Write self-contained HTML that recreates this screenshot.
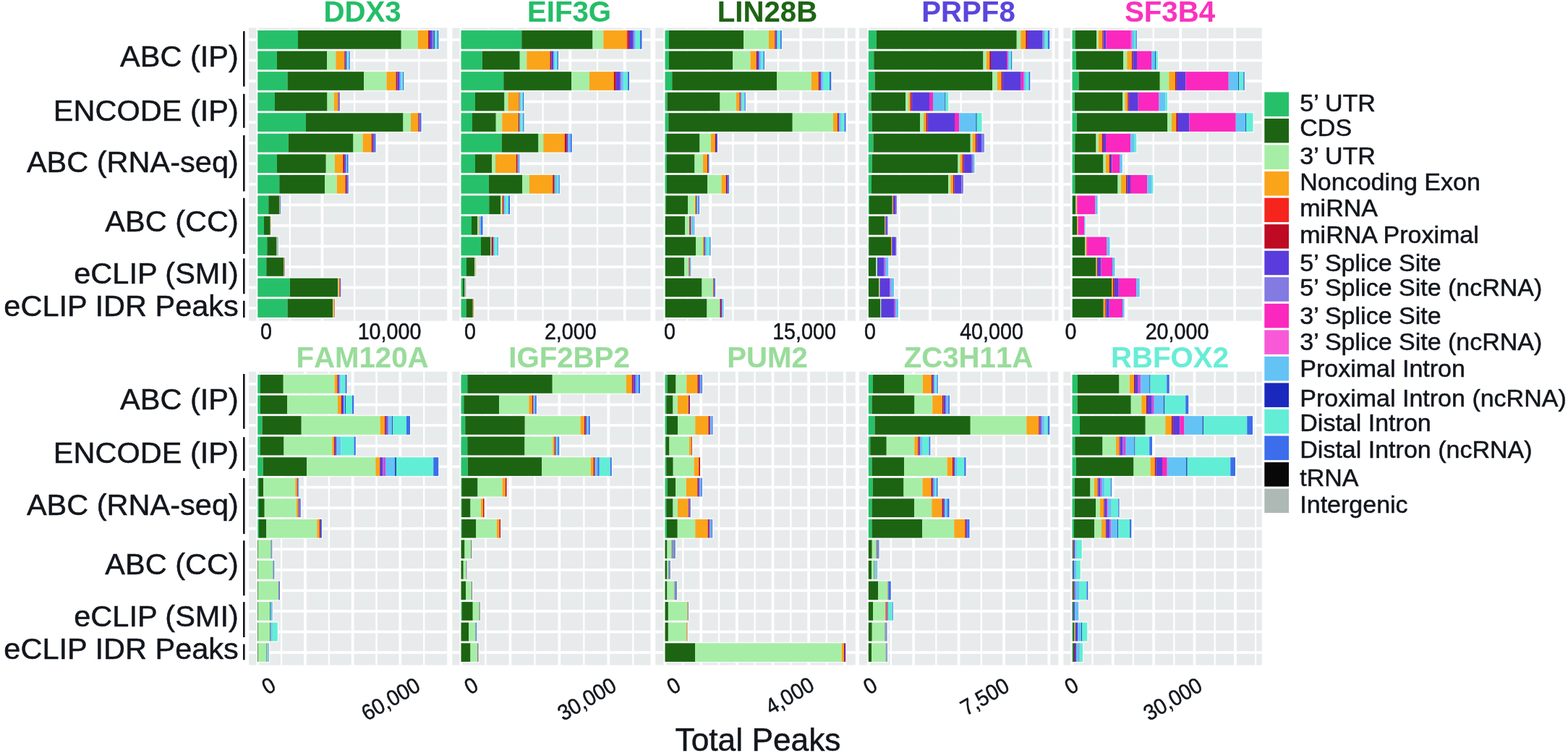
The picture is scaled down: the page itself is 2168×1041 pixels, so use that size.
<!DOCTYPE html>
<html lang="en"><head><meta charset="utf-8"><title>Total Peaks by region</title>
<style>
html,body{margin:0;padding:0;background:#fff;}
body{width:2168px;height:1041px;overflow:hidden;font-family:"Liberation Sans", Arial, Helvetica, sans-serif;}
svg{display:block;}
svg text{font-kerning:normal;}
</style></head><body>
<svg width="2168" height="1041" viewBox="0 0 2168 1041" font-family='"Liberation Sans", Arial, Helvetica, sans-serif'>
<rect x="0" y="0" width="2168" height="1041" fill="#ffffff"/>
<defs><filter id="soft" x="-2%" y="-2%" width="104%" height="104%" color-interpolation-filters="sRGB"><feGaussianBlur stdDeviation="0.55"/></filter></defs>
<g class="panel p1" filter="url(#soft)">
<rect x="344" y="38.5" width="274.3" height="405.1" fill="#E8EBEC"/>
<rect x="344" y="53.05" width="274.3" height="3.7" fill="#fff"/>
<rect x="344" y="81.6" width="274.3" height="3.7" fill="#fff"/>
<rect x="344" y="110.15" width="274.3" height="3.7" fill="#fff"/>
<rect x="344" y="138.7" width="274.3" height="3.7" fill="#fff"/>
<rect x="344" y="167.25" width="274.3" height="3.7" fill="#fff"/>
<rect x="344" y="195.8" width="274.3" height="3.7" fill="#fff"/>
<rect x="344" y="224.35" width="274.3" height="3.7" fill="#fff"/>
<rect x="344" y="252.9" width="274.3" height="3.7" fill="#fff"/>
<rect x="344" y="281.45" width="274.3" height="3.7" fill="#fff"/>
<rect x="344" y="310" width="274.3" height="3.7" fill="#fff"/>
<rect x="344" y="338.55" width="274.3" height="3.7" fill="#fff"/>
<rect x="344" y="367.1" width="274.3" height="3.7" fill="#fff"/>
<rect x="344" y="395.65" width="274.3" height="3.7" fill="#fff"/>
<rect x="344" y="424.2" width="274.3" height="3.7" fill="#fff"/>
<rect x="354.4" y="38.5" width="3.7" height="405.1" fill="#fff"/>
<rect x="399.77" y="38.5" width="2.2" height="405.1" fill="#fff"/>
<rect x="443.64" y="38.5" width="3.7" height="405.1" fill="#fff"/>
<rect x="489.01" y="38.5" width="2.2" height="405.1" fill="#fff"/>
<rect x="532.88" y="38.5" width="3.7" height="405.1" fill="#fff"/>
<rect x="578.25" y="38.5" width="2.2" height="405.1" fill="#fff"/>
<rect x="355.65" y="40.55" width="251.95" height="28.7" fill="#fff" fill-opacity="0.7"/>
<rect x="356.25" y="42.05" width="55.75" height="25.7" fill="#26C06A"/>
<rect x="412" y="42.05" width="142.75" height="25.7" fill="#1C6412"/>
<rect x="554.75" y="42.05" width="23" height="25.7" fill="#A6EEA6"/>
<rect x="577.75" y="42.05" width="14.38" height="25.7" fill="#FAA41A"/>
<rect x="592.12" y="42.05" width="1.88" height="25.7" fill="#BE0A23"/>
<rect x="594" y="42.05" width="3.75" height="25.7" fill="#5A3CDC"/>
<rect x="597.75" y="42.05" width="2.25" height="25.7" fill="#837AE2"/>
<rect x="600" y="42.05" width="1.12" height="25.7" fill="#2458B4"/>
<rect x="601.12" y="42.05" width="3.5" height="25.7" fill="#62EED6"/>
<rect x="604.62" y="42.05" width="1.77" height="25.7" fill="#3C6EEB"/>
<rect x="355.65" y="69.1" width="129.3" height="28.7" fill="#fff" fill-opacity="0.7"/>
<rect x="356.25" y="70.6" width="26.75" height="25.7" fill="#26C06A"/>
<rect x="383" y="70.6" width="69" height="25.7" fill="#1C6412"/>
<rect x="452" y="70.6" width="12.25" height="25.7" fill="#A6EEA6"/>
<rect x="464.25" y="70.6" width="12" height="25.7" fill="#FAA41A"/>
<rect x="476.25" y="70.6" width="1.25" height="25.7" fill="#BE0A23"/>
<rect x="477.5" y="70.6" width="1.5" height="25.7" fill="#5A3CDC"/>
<rect x="479" y="70.6" width="1.5" height="25.7" fill="#64C3F5"/>
<rect x="480.5" y="70.6" width="2" height="25.7" fill="#62EED6"/>
<rect x="482.5" y="70.6" width="1.25" height="25.7" fill="#3C6EEB"/>
<rect x="355.65" y="97.65" width="203.8" height="28.7" fill="#fff" fill-opacity="0.7"/>
<rect x="356.25" y="99.15" width="41.25" height="25.7" fill="#26C06A"/>
<rect x="397.5" y="99.15" width="105.5" height="25.7" fill="#1C6412"/>
<rect x="503" y="99.15" width="31.5" height="25.7" fill="#A6EEA6"/>
<rect x="534.5" y="99.15" width="13" height="25.7" fill="#FAA41A"/>
<rect x="547.5" y="99.15" width="2" height="25.7" fill="#BE0A23"/>
<rect x="549.5" y="99.15" width="2.5" height="25.7" fill="#5A3CDC"/>
<rect x="552" y="99.15" width="1" height="25.7" fill="#837AE2"/>
<rect x="553" y="99.15" width="2.5" height="25.7" fill="#64C3F5"/>
<rect x="555.5" y="99.15" width="1.5" height="25.7" fill="#62EED6"/>
<rect x="557" y="99.15" width="1.25" height="25.7" fill="#3C6EEB"/>
<rect x="355.65" y="126.2" width="115.55" height="28.7" fill="#fff" fill-opacity="0.7"/>
<rect x="356.25" y="127.7" width="23.75" height="25.7" fill="#26C06A"/>
<rect x="380" y="127.7" width="72.5" height="25.7" fill="#1C6412"/>
<rect x="452.5" y="127.7" width="9.25" height="25.7" fill="#A6EEA6"/>
<rect x="461.75" y="127.7" width="5.75" height="25.7" fill="#FAA41A"/>
<rect x="467.5" y="127.7" width="1" height="25.7" fill="#BE0A23"/>
<rect x="468.5" y="127.7" width="0.75" height="25.7" fill="#5A3CDC"/>
<rect x="469.25" y="127.7" width="0.75" height="25.7" fill="#3C6EEB"/>
<rect x="355.65" y="154.75" width="228.05" height="28.7" fill="#fff" fill-opacity="0.7"/>
<rect x="356.25" y="156.25" width="66.75" height="25.7" fill="#26C06A"/>
<rect x="423" y="156.25" width="134.5" height="25.7" fill="#1C6412"/>
<rect x="557.5" y="156.25" width="10.5" height="25.7" fill="#A6EEA6"/>
<rect x="568" y="156.25" width="10.25" height="25.7" fill="#FAA41A"/>
<rect x="578.25" y="156.25" width="1.25" height="25.7" fill="#BE0A23"/>
<rect x="579.5" y="156.25" width="1.25" height="25.7" fill="#5A3CDC"/>
<rect x="580.75" y="156.25" width="1.75" height="25.7" fill="#3C6EEB"/>
<rect x="355.65" y="183.3" width="165.05" height="28.7" fill="#fff" fill-opacity="0.7"/>
<rect x="356.25" y="184.8" width="42.5" height="25.7" fill="#26C06A"/>
<rect x="398.75" y="184.8" width="89.75" height="25.7" fill="#1C6412"/>
<rect x="488.5" y="184.8" width="13" height="25.7" fill="#A6EEA6"/>
<rect x="501.5" y="184.8" width="12.25" height="25.7" fill="#FAA41A"/>
<rect x="513.75" y="184.8" width="1.75" height="25.7" fill="#BE0A23"/>
<rect x="515.5" y="184.8" width="2" height="25.7" fill="#5A3CDC"/>
<rect x="517.5" y="184.8" width="2" height="25.7" fill="#3C6EEB"/>
<rect x="355.65" y="211.85" width="127.05" height="28.7" fill="#fff" fill-opacity="0.7"/>
<rect x="356.25" y="213.35" width="26.75" height="25.7" fill="#26C06A"/>
<rect x="383" y="213.35" width="67.75" height="25.7" fill="#1C6412"/>
<rect x="450.75" y="213.35" width="12.25" height="25.7" fill="#A6EEA6"/>
<rect x="463" y="213.35" width="11.25" height="25.7" fill="#FAA41A"/>
<rect x="474.25" y="213.35" width="2" height="25.7" fill="#BE0A23"/>
<rect x="476.25" y="213.35" width="1.75" height="25.7" fill="#5A3CDC"/>
<rect x="478" y="213.35" width="2" height="25.7" fill="#64C3F5"/>
<rect x="480" y="213.35" width="1.5" height="25.7" fill="#3C6EEB"/>
<rect x="355.65" y="240.4" width="127.3" height="28.7" fill="#fff" fill-opacity="0.7"/>
<rect x="356.25" y="241.9" width="30" height="25.7" fill="#26C06A"/>
<rect x="386.25" y="241.9" width="63" height="25.7" fill="#1C6412"/>
<rect x="449.25" y="241.9" width="16.5" height="25.7" fill="#A6EEA6"/>
<rect x="465.75" y="241.9" width="11.75" height="25.7" fill="#FAA41A"/>
<rect x="477.5" y="241.9" width="1.75" height="25.7" fill="#BE0A23"/>
<rect x="479.25" y="241.9" width="1.5" height="25.7" fill="#5A3CDC"/>
<rect x="480.75" y="241.9" width="1" height="25.7" fill="#3C6EEB"/>
<rect x="355.65" y="268.95" width="33.8" height="28.7" fill="#fff" fill-opacity="0.7"/>
<rect x="356.25" y="270.45" width="15" height="25.7" fill="#26C06A"/>
<rect x="371.25" y="270.45" width="15" height="25.7" fill="#1C6412"/>
<rect x="386.25" y="270.45" width="0.5" height="25.7" fill="#D2A868"/>
<rect x="386.75" y="270.45" width="1.5" height="25.7" fill="#6E8ECC"/>
<rect x="355.65" y="297.5" width="20.05" height="28.7" fill="#fff" fill-opacity="0.7"/>
<rect x="356.25" y="299" width="8.75" height="25.7" fill="#26C06A"/>
<rect x="365" y="299" width="8.75" height="25.7" fill="#1C6412"/>
<rect x="373.75" y="299" width="0.75" height="25.7" fill="#D2A868"/>
<rect x="355.65" y="326.05" width="30.55" height="28.7" fill="#fff" fill-opacity="0.7"/>
<rect x="356.25" y="327.55" width="13" height="25.7" fill="#26C06A"/>
<rect x="369.25" y="327.55" width="13.25" height="25.7" fill="#1C6412"/>
<rect x="382.5" y="327.55" width="1" height="25.7" fill="#D2A868"/>
<rect x="383.5" y="327.55" width="1.5" height="25.7" fill="#86C6DA"/>
<rect x="355.65" y="354.6" width="39.3" height="28.7" fill="#fff" fill-opacity="0.7"/>
<rect x="356.25" y="356.1" width="12" height="25.7" fill="#26C06A"/>
<rect x="368.25" y="356.1" width="23.75" height="25.7" fill="#1C6412"/>
<rect x="392" y="356.1" width="1" height="25.7" fill="#D2A868"/>
<rect x="393" y="356.1" width="0.75" height="25.7" fill="#8C7C90"/>
<rect x="355.65" y="383.15" width="116.8" height="28.7" fill="#fff" fill-opacity="0.7"/>
<rect x="356.25" y="384.65" width="44.5" height="25.7" fill="#26C06A"/>
<rect x="400.75" y="384.65" width="66.25" height="25.7" fill="#1C6412"/>
<rect x="467" y="384.65" width="1" height="25.7" fill="#A6EEA6"/>
<rect x="468" y="384.65" width="1.5" height="25.7" fill="#FAA41A"/>
<rect x="469.5" y="384.65" width="0.75" height="25.7" fill="#BE0A23"/>
<rect x="470.25" y="384.65" width="1" height="25.7" fill="#5A3CDC"/>
<rect x="355.65" y="411.7" width="108.05" height="28.7" fill="#fff" fill-opacity="0.7"/>
<rect x="356.25" y="413.2" width="41.25" height="25.7" fill="#26C06A"/>
<rect x="397.5" y="413.2" width="62.5" height="25.7" fill="#1C6412"/>
<rect x="460" y="413.2" width="0.75" height="25.7" fill="#A6EEA6"/>
<rect x="460.75" y="413.2" width="1.25" height="25.7" fill="#FAA41A"/>
<rect x="462" y="413.2" width="0.5" height="25.7" fill="#BE0A23"/>
</g>
<text x="501" y="30" font-size="40.2" font-weight="bold" fill="#24BE68" stroke="#24BE68" stroke-width="0.1" text-anchor="middle" style="font-kerning:none">DDX3</text>
<g class="panel p2" filter="url(#soft)">
<rect x="625.4" y="38.5" width="274.1" height="405.1" fill="#E8EBEC"/>
<rect x="625.4" y="53.05" width="274.1" height="3.7" fill="#fff"/>
<rect x="625.4" y="81.6" width="274.1" height="3.7" fill="#fff"/>
<rect x="625.4" y="110.15" width="274.1" height="3.7" fill="#fff"/>
<rect x="625.4" y="138.7" width="274.1" height="3.7" fill="#fff"/>
<rect x="625.4" y="167.25" width="274.1" height="3.7" fill="#fff"/>
<rect x="625.4" y="195.8" width="274.1" height="3.7" fill="#fff"/>
<rect x="625.4" y="224.35" width="274.1" height="3.7" fill="#fff"/>
<rect x="625.4" y="252.9" width="274.1" height="3.7" fill="#fff"/>
<rect x="625.4" y="281.45" width="274.1" height="3.7" fill="#fff"/>
<rect x="625.4" y="310" width="274.1" height="3.7" fill="#fff"/>
<rect x="625.4" y="338.55" width="274.1" height="3.7" fill="#fff"/>
<rect x="625.4" y="367.1" width="274.1" height="3.7" fill="#fff"/>
<rect x="625.4" y="395.65" width="274.1" height="3.7" fill="#fff"/>
<rect x="625.4" y="424.2" width="274.1" height="3.7" fill="#fff"/>
<rect x="635.65" y="38.5" width="3.7" height="405.1" fill="#fff"/>
<rect x="674.1" y="38.5" width="2.2" height="405.1" fill="#fff"/>
<rect x="711.05" y="38.5" width="3.7" height="405.1" fill="#fff"/>
<rect x="749.5" y="38.5" width="2.2" height="405.1" fill="#fff"/>
<rect x="786.45" y="38.5" width="3.7" height="405.1" fill="#fff"/>
<rect x="824.9" y="38.5" width="2.2" height="405.1" fill="#fff"/>
<rect x="861.85" y="38.5" width="3.7" height="405.1" fill="#fff"/>
<rect x="636.9" y="40.55" width="251.8" height="28.7" fill="#fff" fill-opacity="0.7"/>
<rect x="637.5" y="42.05" width="83.75" height="25.7" fill="#26C06A"/>
<rect x="721.25" y="42.05" width="98.25" height="25.7" fill="#1C6412"/>
<rect x="819.5" y="42.05" width="14.75" height="25.7" fill="#A6EEA6"/>
<rect x="834.25" y="42.05" width="32.5" height="25.7" fill="#FAA41A"/>
<rect x="866.75" y="42.05" width="1.5" height="25.7" fill="#F5241D"/>
<rect x="868.25" y="42.05" width="1.75" height="25.7" fill="#BE0A23"/>
<rect x="870" y="42.05" width="5" height="25.7" fill="#5A3CDC"/>
<rect x="875" y="42.05" width="2.5" height="25.7" fill="#837AE2"/>
<rect x="877.5" y="42.05" width="2" height="25.7" fill="#64C3F5"/>
<rect x="879.5" y="42.05" width="5.5" height="25.7" fill="#62EED6"/>
<rect x="885" y="42.05" width="2.5" height="25.7" fill="#3C6EEB"/>
<rect x="636.9" y="69.1" width="136.3" height="28.7" fill="#fff" fill-opacity="0.7"/>
<rect x="637.5" y="70.6" width="29.25" height="25.7" fill="#26C06A"/>
<rect x="666.75" y="70.6" width="52" height="25.7" fill="#1C6412"/>
<rect x="718.75" y="70.6" width="9.5" height="25.7" fill="#A6EEA6"/>
<rect x="728.25" y="70.6" width="32.25" height="25.7" fill="#FAA41A"/>
<rect x="760.5" y="70.6" width="2" height="25.7" fill="#BE0A23"/>
<rect x="762.5" y="70.6" width="2.5" height="25.7" fill="#5A3CDC"/>
<rect x="765" y="70.6" width="2.5" height="25.7" fill="#64C3F5"/>
<rect x="767.5" y="70.6" width="3" height="25.7" fill="#62EED6"/>
<rect x="770.5" y="70.6" width="1.5" height="25.7" fill="#3C6EEB"/>
<rect x="636.9" y="97.65" width="234.3" height="28.7" fill="#fff" fill-opacity="0.7"/>
<rect x="637.5" y="99.15" width="58.75" height="25.7" fill="#26C06A"/>
<rect x="696.25" y="99.15" width="93.75" height="25.7" fill="#1C6412"/>
<rect x="790" y="99.15" width="25" height="25.7" fill="#A6EEA6"/>
<rect x="815" y="99.15" width="33.75" height="25.7" fill="#FAA41A"/>
<rect x="848.75" y="99.15" width="3" height="25.7" fill="#BE0A23"/>
<rect x="851.75" y="99.15" width="5.25" height="25.7" fill="#5A3CDC"/>
<rect x="857" y="99.15" width="2.5" height="25.7" fill="#837AE2"/>
<rect x="859.5" y="99.15" width="3" height="25.7" fill="#64C3F5"/>
<rect x="862.5" y="99.15" width="5.5" height="25.7" fill="#62EED6"/>
<rect x="868" y="99.15" width="2" height="25.7" fill="#3C6EEB"/>
<rect x="636.9" y="126.2" width="88.55" height="28.7" fill="#fff" fill-opacity="0.7"/>
<rect x="637.5" y="127.7" width="19.5" height="25.7" fill="#26C06A"/>
<rect x="657" y="127.7" width="40.5" height="25.7" fill="#1C6412"/>
<rect x="697.5" y="127.7" width="5" height="25.7" fill="#A6EEA6"/>
<rect x="702.5" y="127.7" width="15" height="25.7" fill="#FAA41A"/>
<rect x="717.5" y="127.7" width="1" height="25.7" fill="#BE0A23"/>
<rect x="718.5" y="127.7" width="2" height="25.7" fill="#64C3F5"/>
<rect x="720.5" y="127.7" width="2.5" height="25.7" fill="#62EED6"/>
<rect x="723" y="127.7" width="1.25" height="25.7" fill="#3C6EEB"/>
<rect x="636.9" y="154.75" width="88.8" height="28.7" fill="#fff" fill-opacity="0.7"/>
<rect x="637.5" y="156.25" width="15.5" height="25.7" fill="#26C06A"/>
<rect x="653" y="156.25" width="32.75" height="25.7" fill="#1C6412"/>
<rect x="685.75" y="156.25" width="8.5" height="25.7" fill="#A6EEA6"/>
<rect x="694.25" y="156.25" width="22.5" height="25.7" fill="#FAA41A"/>
<rect x="716.75" y="156.25" width="1.25" height="25.7" fill="#BE0A23"/>
<rect x="718" y="156.25" width="2.5" height="25.7" fill="#64C3F5"/>
<rect x="720.5" y="156.25" width="2.75" height="25.7" fill="#62EED6"/>
<rect x="723.25" y="156.25" width="1.25" height="25.7" fill="#3C6EEB"/>
<rect x="636.9" y="183.3" width="155.05" height="28.7" fill="#fff" fill-opacity="0.7"/>
<rect x="637.5" y="184.8" width="56.25" height="25.7" fill="#26C06A"/>
<rect x="693.75" y="184.8" width="50.75" height="25.7" fill="#1C6412"/>
<rect x="744.5" y="184.8" width="6.75" height="25.7" fill="#A6EEA6"/>
<rect x="751.25" y="184.8" width="29.5" height="25.7" fill="#FAA41A"/>
<rect x="780.75" y="184.8" width="3" height="25.7" fill="#BE0A23"/>
<rect x="783.75" y="184.8" width="1.75" height="25.7" fill="#5A3CDC"/>
<rect x="785.5" y="184.8" width="3.25" height="25.7" fill="#64C3F5"/>
<rect x="788.75" y="184.8" width="2" height="25.7" fill="#3C6EEB"/>
<rect x="636.9" y="211.85" width="82.55" height="28.7" fill="#fff" fill-opacity="0.7"/>
<rect x="637.5" y="213.35" width="19.5" height="25.7" fill="#26C06A"/>
<rect x="657" y="213.35" width="23" height="25.7" fill="#1C6412"/>
<rect x="680" y="213.35" width="5" height="25.7" fill="#A6EEA6"/>
<rect x="685" y="213.35" width="28.75" height="25.7" fill="#FAA41A"/>
<rect x="713.75" y="213.35" width="2" height="25.7" fill="#BE0A23"/>
<rect x="715.75" y="213.35" width="1.5" height="25.7" fill="#64C3F5"/>
<rect x="717.25" y="213.35" width="1" height="25.7" fill="#3C6EEB"/>
<rect x="636.9" y="240.4" width="138.05" height="28.7" fill="#fff" fill-opacity="0.7"/>
<rect x="637.5" y="241.9" width="38.25" height="25.7" fill="#26C06A"/>
<rect x="675.75" y="241.9" width="46.25" height="25.7" fill="#1C6412"/>
<rect x="722" y="241.9" width="10" height="25.7" fill="#A6EEA6"/>
<rect x="732" y="241.9" width="32.25" height="25.7" fill="#FAA41A"/>
<rect x="764.25" y="241.9" width="2.5" height="25.7" fill="#BE0A23"/>
<rect x="766.75" y="241.9" width="3.25" height="25.7" fill="#64C3F5"/>
<rect x="770" y="241.9" width="2.5" height="25.7" fill="#62EED6"/>
<rect x="772.5" y="241.9" width="1.25" height="25.7" fill="#3C6EEB"/>
<rect x="636.9" y="268.95" width="69.3" height="28.7" fill="#fff" fill-opacity="0.7"/>
<rect x="637.5" y="270.45" width="38.75" height="25.7" fill="#26C06A"/>
<rect x="676.25" y="270.45" width="15.75" height="25.7" fill="#1C6412"/>
<rect x="692" y="270.45" width="1.75" height="25.7" fill="#A6EEA6"/>
<rect x="693.75" y="270.45" width="1.25" height="25.7" fill="#FAA41A"/>
<rect x="695" y="270.45" width="1.25" height="25.7" fill="#BE0A23"/>
<rect x="696.25" y="270.45" width="0.75" height="25.7" fill="#837AE2"/>
<rect x="697" y="270.45" width="2.25" height="25.7" fill="#64C3F5"/>
<rect x="699.25" y="270.45" width="3.75" height="25.7" fill="#62EED6"/>
<rect x="703" y="270.45" width="2" height="25.7" fill="#3C6EEB"/>
<rect x="636.9" y="297.5" width="31.8" height="28.7" fill="#fff" fill-opacity="0.7"/>
<rect x="637.5" y="299" width="14.5" height="25.7" fill="#26C06A"/>
<rect x="652" y="299" width="8" height="25.7" fill="#1C6412"/>
<rect x="660" y="299" width="1.25" height="25.7" fill="#A6EEA6"/>
<rect x="661.25" y="299" width="1.25" height="25.7" fill="#FAA41A"/>
<rect x="662.5" y="299" width="2.5" height="25.7" fill="#64C3F5"/>
<rect x="665" y="299" width="2.5" height="25.7" fill="#3C6EEB"/>
<rect x="636.9" y="326.05" width="53.05" height="28.7" fill="#fff" fill-opacity="0.7"/>
<rect x="637.5" y="327.55" width="27.5" height="25.7" fill="#26C06A"/>
<rect x="665" y="327.55" width="13.25" height="25.7" fill="#1C6412"/>
<rect x="678.25" y="327.55" width="1.25" height="25.7" fill="#A6EEA6"/>
<rect x="679.5" y="327.55" width="2.5" height="25.7" fill="#BE0A23"/>
<rect x="682" y="327.55" width="2.5" height="25.7" fill="#64C3F5"/>
<rect x="684.5" y="327.55" width="3.5" height="25.7" fill="#62EED6"/>
<rect x="688" y="327.55" width="0.75" height="25.7" fill="#3C6EEB"/>
<rect x="636.9" y="354.6" width="22.55" height="28.7" fill="#fff" fill-opacity="0.7"/>
<rect x="637.5" y="356.1" width="7.5" height="25.7" fill="#26C06A"/>
<rect x="645" y="356.1" width="11.25" height="25.7" fill="#1C6412"/>
<rect x="656.25" y="356.1" width="1" height="25.7" fill="#A6EEA6"/>
<rect x="657.25" y="356.1" width="1" height="25.7" fill="#D2A868"/>
<rect x="636.9" y="383.15" width="8.8" height="28.7" fill="#fff" fill-opacity="0.7"/>
<rect x="637.5" y="384.65" width="2.5" height="25.7" fill="#26C06A"/>
<rect x="640" y="384.65" width="2.5" height="25.7" fill="#1C6412"/>
<rect x="642.5" y="384.65" width="2" height="25.7" fill="#AEB9B5"/>
<rect x="636.9" y="411.7" width="19.55" height="28.7" fill="#fff" fill-opacity="0.7"/>
<rect x="637.5" y="413.2" width="7" height="25.7" fill="#26C06A"/>
<rect x="644.5" y="413.2" width="9.25" height="25.7" fill="#1C6412"/>
<rect x="653.75" y="413.2" width="1.5" height="25.7" fill="#D2A868"/>
</g>
<text x="787" y="30" font-size="40.2" font-weight="bold" fill="#24BE68" stroke="#24BE68" stroke-width="0.1" text-anchor="middle" style="font-kerning:none">EIF3G</text>
<g class="panel p3" filter="url(#soft)">
<rect x="906.2" y="38.5" width="276.6" height="405.1" fill="#E8EBEC"/>
<rect x="906.2" y="53.05" width="276.6" height="3.7" fill="#fff"/>
<rect x="906.2" y="81.6" width="276.6" height="3.7" fill="#fff"/>
<rect x="906.2" y="110.15" width="276.6" height="3.7" fill="#fff"/>
<rect x="906.2" y="138.7" width="276.6" height="3.7" fill="#fff"/>
<rect x="906.2" y="167.25" width="276.6" height="3.7" fill="#fff"/>
<rect x="906.2" y="195.8" width="276.6" height="3.7" fill="#fff"/>
<rect x="906.2" y="224.35" width="276.6" height="3.7" fill="#fff"/>
<rect x="906.2" y="252.9" width="276.6" height="3.7" fill="#fff"/>
<rect x="906.2" y="281.45" width="276.6" height="3.7" fill="#fff"/>
<rect x="906.2" y="310" width="276.6" height="3.7" fill="#fff"/>
<rect x="906.2" y="338.55" width="276.6" height="3.7" fill="#fff"/>
<rect x="906.2" y="367.1" width="276.6" height="3.7" fill="#fff"/>
<rect x="906.2" y="395.65" width="276.6" height="3.7" fill="#fff"/>
<rect x="906.2" y="424.2" width="276.6" height="3.7" fill="#fff"/>
<rect x="917.65" y="38.5" width="3.7" height="405.1" fill="#fff"/>
<rect x="949.7" y="38.5" width="2.2" height="405.1" fill="#fff"/>
<rect x="980.25" y="38.5" width="3.7" height="405.1" fill="#fff"/>
<rect x="1012.3" y="38.5" width="2.2" height="405.1" fill="#fff"/>
<rect x="1042.85" y="38.5" width="3.7" height="405.1" fill="#fff"/>
<rect x="1074.9" y="38.5" width="2.2" height="405.1" fill="#fff"/>
<rect x="1105.45" y="38.5" width="3.7" height="405.1" fill="#fff"/>
<rect x="1137.5" y="38.5" width="2.2" height="405.1" fill="#fff"/>
<rect x="1168.05" y="38.5" width="3.7" height="405.1" fill="#fff"/>
<rect x="918.9" y="40.55" width="163.05" height="28.7" fill="#fff" fill-opacity="0.7"/>
<rect x="919.5" y="42.05" width="5.5" height="25.7" fill="#26C06A"/>
<rect x="925" y="42.05" width="103.25" height="25.7" fill="#1C6412"/>
<rect x="1028.25" y="42.05" width="34.75" height="25.7" fill="#A6EEA6"/>
<rect x="1063" y="42.05" width="8.25" height="25.7" fill="#FAA41A"/>
<rect x="1071.25" y="42.05" width="1.25" height="25.7" fill="#BE0A23"/>
<rect x="1072.5" y="42.05" width="1.5" height="25.7" fill="#5A3CDC"/>
<rect x="1074" y="42.05" width="1.75" height="25.7" fill="#64C3F5"/>
<rect x="1075.75" y="42.05" width="3.25" height="25.7" fill="#62EED6"/>
<rect x="1079" y="42.05" width="1.75" height="25.7" fill="#3C6EEB"/>
<rect x="918.9" y="69.1" width="139.3" height="28.7" fill="#fff" fill-opacity="0.7"/>
<rect x="919.5" y="70.6" width="5.5" height="25.7" fill="#26C06A"/>
<rect x="925" y="70.6" width="88" height="25.7" fill="#1C6412"/>
<rect x="1013" y="70.6" width="24.5" height="25.7" fill="#A6EEA6"/>
<rect x="1037.5" y="70.6" width="8.25" height="25.7" fill="#FAA41A"/>
<rect x="1045.75" y="70.6" width="1.25" height="25.7" fill="#BE0A23"/>
<rect x="1047" y="70.6" width="2" height="25.7" fill="#5A3CDC"/>
<rect x="1049" y="70.6" width="1" height="25.7" fill="#837AE2"/>
<rect x="1050" y="70.6" width="2" height="25.7" fill="#64C3F5"/>
<rect x="1052" y="70.6" width="3.5" height="25.7" fill="#62EED6"/>
<rect x="1055.5" y="70.6" width="1.5" height="25.7" fill="#3C6EEB"/>
<rect x="918.9" y="97.65" width="231.55" height="28.7" fill="#fff" fill-opacity="0.7"/>
<rect x="919.5" y="99.15" width="9.75" height="25.7" fill="#26C06A"/>
<rect x="929.25" y="99.15" width="145" height="25.7" fill="#1C6412"/>
<rect x="1074.25" y="99.15" width="47.5" height="25.7" fill="#A6EEA6"/>
<rect x="1121.75" y="99.15" width="10" height="25.7" fill="#FAA41A"/>
<rect x="1131.75" y="99.15" width="1.5" height="25.7" fill="#BE0A23"/>
<rect x="1133.25" y="99.15" width="2.25" height="25.7" fill="#5A3CDC"/>
<rect x="1135.5" y="99.15" width="0.75" height="25.7" fill="#837AE2"/>
<rect x="1136.25" y="99.15" width="2.5" height="25.7" fill="#64C3F5"/>
<rect x="1138.75" y="99.15" width="8.25" height="25.7" fill="#62EED6"/>
<rect x="1147" y="99.15" width="2.25" height="25.7" fill="#3C6EEB"/>
<rect x="918.9" y="126.2" width="113.05" height="28.7" fill="#fff" fill-opacity="0.7"/>
<rect x="919.5" y="127.7" width="3" height="25.7" fill="#26C06A"/>
<rect x="922.5" y="127.7" width="73" height="25.7" fill="#1C6412"/>
<rect x="995.5" y="127.7" width="22.5" height="25.7" fill="#A6EEA6"/>
<rect x="1018" y="127.7" width="4.5" height="25.7" fill="#FAA41A"/>
<rect x="1022.5" y="127.7" width="1.25" height="25.7" fill="#BE0A23"/>
<rect x="1023.75" y="127.7" width="0.75" height="25.7" fill="#5A3CDC"/>
<rect x="1024.5" y="127.7" width="1.75" height="25.7" fill="#64C3F5"/>
<rect x="1026.25" y="127.7" width="3.25" height="25.7" fill="#62EED6"/>
<rect x="1029.5" y="127.7" width="1.25" height="25.7" fill="#3C6EEB"/>
<rect x="918.9" y="154.75" width="251.8" height="28.7" fill="#fff" fill-opacity="0.7"/>
<rect x="919.5" y="156.25" width="4.75" height="25.7" fill="#26C06A"/>
<rect x="924.25" y="156.25" width="171.5" height="25.7" fill="#1C6412"/>
<rect x="1095.75" y="156.25" width="56.25" height="25.7" fill="#A6EEA6"/>
<rect x="1152" y="156.25" width="6" height="25.7" fill="#FAA41A"/>
<rect x="1158" y="156.25" width="1.25" height="25.7" fill="#BE0A23"/>
<rect x="1159.25" y="156.25" width="1.25" height="25.7" fill="#5A3CDC"/>
<rect x="1160.5" y="156.25" width="0.75" height="25.7" fill="#837AE2"/>
<rect x="1161.25" y="156.25" width="1.75" height="25.7" fill="#64C3F5"/>
<rect x="1163" y="156.25" width="4.5" height="25.7" fill="#62EED6"/>
<rect x="1167.5" y="156.25" width="2" height="25.7" fill="#3C6EEB"/>
<rect x="918.9" y="183.3" width="74.3" height="28.7" fill="#fff" fill-opacity="0.7"/>
<rect x="919.5" y="184.8" width="2.5" height="25.7" fill="#26C06A"/>
<rect x="922" y="184.8" width="45.5" height="25.7" fill="#1C6412"/>
<rect x="967.5" y="184.8" width="15.5" height="25.7" fill="#A6EEA6"/>
<rect x="983" y="184.8" width="5.75" height="25.7" fill="#FAA41A"/>
<rect x="988.75" y="184.8" width="1.25" height="25.7" fill="#BE0A23"/>
<rect x="990" y="184.8" width="1" height="25.7" fill="#5A3CDC"/>
<rect x="991" y="184.8" width="1" height="25.7" fill="#3C6EEB"/>
<rect x="918.9" y="211.85" width="62.8" height="28.7" fill="#fff" fill-opacity="0.7"/>
<rect x="919.5" y="213.35" width="2.5" height="25.7" fill="#26C06A"/>
<rect x="922" y="213.35" width="38.5" height="25.7" fill="#1C6412"/>
<rect x="960.5" y="213.35" width="11.5" height="25.7" fill="#A6EEA6"/>
<rect x="972" y="213.35" width="6" height="25.7" fill="#FAA41A"/>
<rect x="978" y="213.35" width="1.25" height="25.7" fill="#BE0A23"/>
<rect x="979.25" y="213.35" width="1.25" height="25.7" fill="#3C6EEB"/>
<rect x="918.9" y="240.4" width="90.3" height="28.7" fill="#fff" fill-opacity="0.7"/>
<rect x="919.5" y="241.9" width="2.5" height="25.7" fill="#26C06A"/>
<rect x="922" y="241.9" width="56.25" height="25.7" fill="#1C6412"/>
<rect x="978.25" y="241.9" width="19.25" height="25.7" fill="#A6EEA6"/>
<rect x="997.5" y="241.9" width="6.25" height="25.7" fill="#FAA41A"/>
<rect x="1003.75" y="241.9" width="1.25" height="25.7" fill="#BE0A23"/>
<rect x="1005" y="241.9" width="1.5" height="25.7" fill="#5A3CDC"/>
<rect x="1006.5" y="241.9" width="1.5" height="25.7" fill="#3C6EEB"/>
<rect x="918.9" y="268.95" width="49.3" height="28.7" fill="#fff" fill-opacity="0.7"/>
<rect x="919.5" y="270.45" width="1" height="25.7" fill="#26C06A"/>
<rect x="920.5" y="270.45" width="30.75" height="25.7" fill="#1C6412"/>
<rect x="951.25" y="270.45" width="9.5" height="25.7" fill="#A6EEA6"/>
<rect x="960.75" y="270.45" width="1.25" height="25.7" fill="#FAA41A"/>
<rect x="962" y="270.45" width="1" height="25.7" fill="#BE0A23"/>
<rect x="963" y="270.45" width="2.5" height="25.7" fill="#64C3F5"/>
<rect x="965.5" y="270.45" width="1.5" height="25.7" fill="#3C6EEB"/>
<rect x="918.9" y="297.5" width="42.55" height="28.7" fill="#fff" fill-opacity="0.7"/>
<rect x="919.5" y="299" width="0.5" height="25.7" fill="#26C06A"/>
<rect x="920" y="299" width="27" height="25.7" fill="#1C6412"/>
<rect x="947" y="299" width="6.25" height="25.7" fill="#A6EEA6"/>
<rect x="953.25" y="299" width="1.75" height="25.7" fill="#BE0A23"/>
<rect x="955" y="299" width="0.5" height="25.7" fill="#837AE2"/>
<rect x="955.5" y="299" width="2.5" height="25.7" fill="#64C3F5"/>
<rect x="958" y="299" width="1.5" height="25.7" fill="#62EED6"/>
<rect x="959.5" y="299" width="0.75" height="25.7" fill="#3C6EEB"/>
<rect x="918.9" y="326.05" width="64.8" height="28.7" fill="#fff" fill-opacity="0.7"/>
<rect x="919.5" y="327.55" width="0.5" height="25.7" fill="#26C06A"/>
<rect x="920" y="327.55" width="42" height="25.7" fill="#1C6412"/>
<rect x="962" y="327.55" width="10" height="25.7" fill="#A6EEA6"/>
<rect x="972" y="327.55" width="1.25" height="25.7" fill="#FAA41A"/>
<rect x="973.25" y="327.55" width="1" height="25.7" fill="#BE0A23"/>
<rect x="974.25" y="327.55" width="0.75" height="25.7" fill="#5A3CDC"/>
<rect x="975" y="327.55" width="2" height="25.7" fill="#64C3F5"/>
<rect x="977" y="327.55" width="4.25" height="25.7" fill="#62EED6"/>
<rect x="981.25" y="327.55" width="1.25" height="25.7" fill="#3C6EEB"/>
<rect x="918.9" y="354.6" width="37.8" height="28.7" fill="#fff" fill-opacity="0.7"/>
<rect x="919.5" y="356.1" width="0.5" height="25.7" fill="#26C06A"/>
<rect x="920" y="356.1" width="26.25" height="25.7" fill="#1C6412"/>
<rect x="946.25" y="356.1" width="6.25" height="25.7" fill="#A6EEA6"/>
<rect x="952.5" y="356.1" width="1.25" height="25.7" fill="#BE0A23"/>
<rect x="953.75" y="356.1" width="1.75" height="25.7" fill="#64C3F5"/>
<rect x="918.9" y="383.15" width="71.3" height="28.7" fill="#fff" fill-opacity="0.7"/>
<rect x="919.5" y="384.65" width="0.5" height="25.7" fill="#26C06A"/>
<rect x="920" y="384.65" width="50.5" height="25.7" fill="#1C6412"/>
<rect x="970.5" y="384.65" width="15.75" height="25.7" fill="#A6EEA6"/>
<rect x="986.25" y="384.65" width="1.25" height="25.7" fill="#BE0A23"/>
<rect x="987.5" y="384.65" width="1.5" height="25.7" fill="#3C6EEB"/>
<rect x="918.9" y="411.7" width="82.8" height="28.7" fill="#fff" fill-opacity="0.7"/>
<rect x="919.5" y="413.2" width="0.5" height="25.7" fill="#26C06A"/>
<rect x="920" y="413.2" width="57.5" height="25.7" fill="#1C6412"/>
<rect x="977.5" y="413.2" width="18" height="25.7" fill="#A6EEA6"/>
<rect x="995.5" y="413.2" width="1.5" height="25.7" fill="#BE0A23"/>
<rect x="997" y="413.2" width="1.25" height="25.7" fill="#5A3CDC"/>
<rect x="998.25" y="413.2" width="2.25" height="25.7" fill="#64C3F5"/>
</g>
<text x="1061" y="30" font-size="40.2" font-weight="bold" fill="#1E6414" stroke="#1E6414" stroke-width="0.1" text-anchor="middle" style="font-kerning:none">LIN28B</text>
<g class="panel p4" filter="url(#soft)">
<rect x="1187.9" y="38.5" width="275.5" height="405.1" fill="#E8EBEC"/>
<rect x="1187.9" y="53.05" width="275.5" height="3.7" fill="#fff"/>
<rect x="1187.9" y="81.6" width="275.5" height="3.7" fill="#fff"/>
<rect x="1187.9" y="110.15" width="275.5" height="3.7" fill="#fff"/>
<rect x="1187.9" y="138.7" width="275.5" height="3.7" fill="#fff"/>
<rect x="1187.9" y="167.25" width="275.5" height="3.7" fill="#fff"/>
<rect x="1187.9" y="195.8" width="275.5" height="3.7" fill="#fff"/>
<rect x="1187.9" y="224.35" width="275.5" height="3.7" fill="#fff"/>
<rect x="1187.9" y="252.9" width="275.5" height="3.7" fill="#fff"/>
<rect x="1187.9" y="281.45" width="275.5" height="3.7" fill="#fff"/>
<rect x="1187.9" y="310" width="275.5" height="3.7" fill="#fff"/>
<rect x="1187.9" y="338.55" width="275.5" height="3.7" fill="#fff"/>
<rect x="1187.9" y="367.1" width="275.5" height="3.7" fill="#fff"/>
<rect x="1187.9" y="395.65" width="275.5" height="3.7" fill="#fff"/>
<rect x="1187.9" y="424.2" width="275.5" height="3.7" fill="#fff"/>
<rect x="1198.9" y="38.5" width="3.7" height="405.1" fill="#fff"/>
<rect x="1242.27" y="38.5" width="2.2" height="405.1" fill="#fff"/>
<rect x="1284.14" y="38.5" width="3.7" height="405.1" fill="#fff"/>
<rect x="1327.51" y="38.5" width="2.2" height="405.1" fill="#fff"/>
<rect x="1369.38" y="38.5" width="3.7" height="405.1" fill="#fff"/>
<rect x="1412.75" y="38.5" width="2.2" height="405.1" fill="#fff"/>
<rect x="1454.62" y="38.5" width="3.7" height="405.1" fill="#fff"/>
<rect x="1200.15" y="40.55" width="252.3" height="28.7" fill="#fff" fill-opacity="0.7"/>
<rect x="1200.75" y="42.05" width="11.25" height="25.7" fill="#26C06A"/>
<rect x="1212" y="42.05" width="193.75" height="25.7" fill="#1C6412"/>
<rect x="1405.75" y="42.05" width="5.5" height="25.7" fill="#A6EEA6"/>
<rect x="1411.25" y="42.05" width="7" height="25.7" fill="#FAA41A"/>
<rect x="1418.25" y="42.05" width="1.75" height="25.7" fill="#BE0A23"/>
<rect x="1420" y="42.05" width="21.25" height="25.7" fill="#5A3CDC"/>
<rect x="1441.25" y="42.05" width="1.75" height="25.7" fill="#837AE2"/>
<rect x="1443" y="42.05" width="2" height="25.7" fill="#64C3F5"/>
<rect x="1445" y="42.05" width="3.75" height="25.7" fill="#62EED6"/>
<rect x="1448.75" y="42.05" width="2.5" height="25.7" fill="#3C6EEB"/>
<rect x="1200.15" y="69.1" width="200.3" height="28.7" fill="#fff" fill-opacity="0.7"/>
<rect x="1200.75" y="70.6" width="7.5" height="25.7" fill="#26C06A"/>
<rect x="1208.25" y="70.6" width="151.25" height="25.7" fill="#1C6412"/>
<rect x="1359.5" y="70.6" width="4.25" height="25.7" fill="#A6EEA6"/>
<rect x="1363.75" y="70.6" width="4.5" height="25.7" fill="#FAA41A"/>
<rect x="1368.25" y="70.6" width="1.75" height="25.7" fill="#BE0A23"/>
<rect x="1370" y="70.6" width="22" height="25.7" fill="#5A3CDC"/>
<rect x="1392" y="70.6" width="1.75" height="25.7" fill="#FA28BE"/>
<rect x="1393.75" y="70.6" width="1.75" height="25.7" fill="#64C3F5"/>
<rect x="1395.5" y="70.6" width="2.5" height="25.7" fill="#62EED6"/>
<rect x="1398" y="70.6" width="1.25" height="25.7" fill="#3C6EEB"/>
<rect x="1200.15" y="97.65" width="225.3" height="28.7" fill="#fff" fill-opacity="0.7"/>
<rect x="1200.75" y="99.15" width="8.75" height="25.7" fill="#26C06A"/>
<rect x="1209.5" y="99.15" width="162.5" height="25.7" fill="#1C6412"/>
<rect x="1372" y="99.15" width="6.75" height="25.7" fill="#A6EEA6"/>
<rect x="1378.75" y="99.15" width="5.75" height="25.7" fill="#FAA41A"/>
<rect x="1384.5" y="99.15" width="1.75" height="25.7" fill="#BE0A23"/>
<rect x="1386.25" y="99.15" width="25.5" height="25.7" fill="#5A3CDC"/>
<rect x="1411.75" y="99.15" width="4" height="25.7" fill="#FA28BE"/>
<rect x="1415.75" y="99.15" width="3" height="25.7" fill="#64C3F5"/>
<rect x="1418.75" y="99.15" width="3.75" height="25.7" fill="#62EED6"/>
<rect x="1422.5" y="99.15" width="1.75" height="25.7" fill="#3C6EEB"/>
<rect x="1200.15" y="126.2" width="112.3" height="28.7" fill="#fff" fill-opacity="0.7"/>
<rect x="1200.75" y="127.7" width="3.75" height="25.7" fill="#26C06A"/>
<rect x="1204.5" y="127.7" width="47.5" height="25.7" fill="#1C6412"/>
<rect x="1252" y="127.7" width="4.25" height="25.7" fill="#A6EEA6"/>
<rect x="1256.25" y="127.7" width="2.5" height="25.7" fill="#FAA41A"/>
<rect x="1258.75" y="127.7" width="1.75" height="25.7" fill="#BE0A23"/>
<rect x="1260.5" y="127.7" width="24.5" height="25.7" fill="#5A3CDC"/>
<rect x="1285" y="127.7" width="5" height="25.7" fill="#FA28BE"/>
<rect x="1290" y="127.7" width="16.25" height="25.7" fill="#64C3F5"/>
<rect x="1306.25" y="127.7" width="1.25" height="25.7" fill="#2458B4"/>
<rect x="1307.5" y="127.7" width="3.75" height="25.7" fill="#62EED6"/>
<rect x="1200.15" y="154.75" width="158.55" height="28.7" fill="#fff" fill-opacity="0.7"/>
<rect x="1200.75" y="156.25" width="5" height="25.7" fill="#26C06A"/>
<rect x="1205.75" y="156.25" width="66.25" height="25.7" fill="#1C6412"/>
<rect x="1272" y="156.25" width="5" height="25.7" fill="#A6EEA6"/>
<rect x="1277" y="156.25" width="3.5" height="25.7" fill="#FAA41A"/>
<rect x="1280.5" y="156.25" width="2" height="25.7" fill="#BE0A23"/>
<rect x="1282.5" y="156.25" width="37.5" height="25.7" fill="#5A3CDC"/>
<rect x="1320" y="156.25" width="6.25" height="25.7" fill="#FA28BE"/>
<rect x="1326.25" y="156.25" width="23" height="25.7" fill="#64C3F5"/>
<rect x="1349.25" y="156.25" width="1.5" height="25.7" fill="#2458B4"/>
<rect x="1350.75" y="156.25" width="6.75" height="25.7" fill="#62EED6"/>
<rect x="1200.15" y="183.3" width="161.8" height="28.7" fill="#fff" fill-opacity="0.7"/>
<rect x="1200.75" y="184.8" width="6.75" height="25.7" fill="#26C06A"/>
<rect x="1207.5" y="184.8" width="134.25" height="25.7" fill="#1C6412"/>
<rect x="1341.75" y="184.8" width="2.75" height="25.7" fill="#A6EEA6"/>
<rect x="1344.5" y="184.8" width="4.25" height="25.7" fill="#FAA41A"/>
<rect x="1348.75" y="184.8" width="1.75" height="25.7" fill="#BE0A23"/>
<rect x="1350.5" y="184.8" width="7" height="25.7" fill="#5A3CDC"/>
<rect x="1357.5" y="184.8" width="2" height="25.7" fill="#837AE2"/>
<rect x="1359.5" y="184.8" width="1.25" height="25.7" fill="#3C6EEB"/>
<rect x="1200.15" y="211.85" width="148.55" height="28.7" fill="#fff" fill-opacity="0.7"/>
<rect x="1200.75" y="213.35" width="5" height="25.7" fill="#26C06A"/>
<rect x="1205.75" y="213.35" width="118.75" height="25.7" fill="#1C6412"/>
<rect x="1324.5" y="213.35" width="3" height="25.7" fill="#A6EEA6"/>
<rect x="1327.5" y="213.35" width="3.25" height="25.7" fill="#FAA41A"/>
<rect x="1330.75" y="213.35" width="1.75" height="25.7" fill="#BE0A23"/>
<rect x="1332.5" y="213.35" width="11.25" height="25.7" fill="#5A3CDC"/>
<rect x="1343.75" y="213.35" width="2" height="25.7" fill="#837AE2"/>
<rect x="1345.75" y="213.35" width="1.75" height="25.7" fill="#64C3F5"/>
<rect x="1200.15" y="240.4" width="133.05" height="28.7" fill="#fff" fill-opacity="0.7"/>
<rect x="1200.75" y="241.9" width="4.25" height="25.7" fill="#26C06A"/>
<rect x="1205" y="241.9" width="106.25" height="25.7" fill="#1C6412"/>
<rect x="1311.25" y="241.9" width="3" height="25.7" fill="#A6EEA6"/>
<rect x="1314.25" y="241.9" width="3.75" height="25.7" fill="#FAA41A"/>
<rect x="1318" y="241.9" width="1.5" height="25.7" fill="#BE0A23"/>
<rect x="1319.5" y="241.9" width="10" height="25.7" fill="#5A3CDC"/>
<rect x="1329.5" y="241.9" width="2.5" height="25.7" fill="#837AE2"/>
<rect x="1200.15" y="268.95" width="41.05" height="28.7" fill="#fff" fill-opacity="0.7"/>
<rect x="1200.75" y="270.45" width="1.25" height="25.7" fill="#26C06A"/>
<rect x="1202" y="270.45" width="31.75" height="25.7" fill="#1C6412"/>
<rect x="1233.75" y="270.45" width="1.25" height="25.7" fill="#FAA41A"/>
<rect x="1235" y="270.45" width="3.75" height="25.7" fill="#5A3CDC"/>
<rect x="1238.75" y="270.45" width="1.25" height="25.7" fill="#837AE2"/>
<rect x="1200.15" y="297.5" width="28.8" height="28.7" fill="#fff" fill-opacity="0.7"/>
<rect x="1200.75" y="299" width="0.5" height="25.7" fill="#26C06A"/>
<rect x="1201.25" y="299" width="22" height="25.7" fill="#1C6412"/>
<rect x="1223.25" y="299" width="1" height="25.7" fill="#FAA41A"/>
<rect x="1224.25" y="299" width="2.5" height="25.7" fill="#5A3CDC"/>
<rect x="1226.75" y="299" width="1" height="25.7" fill="#837AE2"/>
<rect x="1200.15" y="326.05" width="40.55" height="28.7" fill="#fff" fill-opacity="0.7"/>
<rect x="1200.75" y="327.55" width="0.5" height="25.7" fill="#26C06A"/>
<rect x="1201.25" y="327.55" width="30.75" height="25.7" fill="#1C6412"/>
<rect x="1232" y="327.55" width="1.25" height="25.7" fill="#FAA41A"/>
<rect x="1233.25" y="327.55" width="5.5" height="25.7" fill="#5A3CDC"/>
<rect x="1238.75" y="327.55" width="0.75" height="25.7" fill="#837AE2"/>
<rect x="1200.15" y="354.6" width="29.3" height="28.7" fill="#fff" fill-opacity="0.7"/>
<rect x="1200.75" y="356.1" width="0.25" height="25.7" fill="#26C06A"/>
<rect x="1201" y="356.1" width="10.25" height="25.7" fill="#1C6412"/>
<rect x="1211.25" y="356.1" width="1.75" height="25.7" fill="#A6EEA6"/>
<rect x="1213" y="356.1" width="9.25" height="25.7" fill="#5A3CDC"/>
<rect x="1222.25" y="356.1" width="1.75" height="25.7" fill="#C850DC"/>
<rect x="1224" y="356.1" width="4.25" height="25.7" fill="#64C3F5"/>
<rect x="1200.15" y="383.15" width="37.05" height="28.7" fill="#fff" fill-opacity="0.7"/>
<rect x="1200.75" y="384.65" width="0.25" height="25.7" fill="#26C06A"/>
<rect x="1201" y="384.65" width="14.25" height="25.7" fill="#1C6412"/>
<rect x="1215.25" y="384.65" width="1.25" height="25.7" fill="#A6EEA6"/>
<rect x="1216.5" y="384.65" width="0.5" height="25.7" fill="#BE0A23"/>
<rect x="1217" y="384.65" width="13.25" height="25.7" fill="#5A3CDC"/>
<rect x="1230.25" y="384.65" width="1.5" height="25.7" fill="#C850DC"/>
<rect x="1231.75" y="384.65" width="4.25" height="25.7" fill="#64C3F5"/>
<rect x="1200.15" y="411.7" width="43.05" height="28.7" fill="#fff" fill-opacity="0.7"/>
<rect x="1200.75" y="413.2" width="0.25" height="25.7" fill="#26C06A"/>
<rect x="1201" y="413.2" width="16" height="25.7" fill="#1C6412"/>
<rect x="1217" y="413.2" width="1.25" height="25.7" fill="#A6EEA6"/>
<rect x="1218.25" y="413.2" width="17.75" height="25.7" fill="#5A3CDC"/>
<rect x="1236" y="413.2" width="2" height="25.7" fill="#C850DC"/>
<rect x="1238" y="413.2" width="4" height="25.7" fill="#64C3F5"/>
</g>
<text x="1339" y="30" font-size="40.2" font-weight="bold" fill="#5A46DC" stroke="#5A46DC" stroke-width="0.1" text-anchor="middle" style="font-kerning:none">PRPF8</text>
<g class="panel p5" filter="url(#soft)">
<rect x="1470.4" y="38.5" width="274.4" height="405.1" fill="#E8EBEC"/>
<rect x="1470.4" y="53.05" width="274.4" height="3.7" fill="#fff"/>
<rect x="1470.4" y="81.6" width="274.4" height="3.7" fill="#fff"/>
<rect x="1470.4" y="110.15" width="274.4" height="3.7" fill="#fff"/>
<rect x="1470.4" y="138.7" width="274.4" height="3.7" fill="#fff"/>
<rect x="1470.4" y="167.25" width="274.4" height="3.7" fill="#fff"/>
<rect x="1470.4" y="195.8" width="274.4" height="3.7" fill="#fff"/>
<rect x="1470.4" y="224.35" width="274.4" height="3.7" fill="#fff"/>
<rect x="1470.4" y="252.9" width="274.4" height="3.7" fill="#fff"/>
<rect x="1470.4" y="281.45" width="274.4" height="3.7" fill="#fff"/>
<rect x="1470.4" y="310" width="274.4" height="3.7" fill="#fff"/>
<rect x="1470.4" y="338.55" width="274.4" height="3.7" fill="#fff"/>
<rect x="1470.4" y="367.1" width="274.4" height="3.7" fill="#fff"/>
<rect x="1470.4" y="395.65" width="274.4" height="3.7" fill="#fff"/>
<rect x="1470.4" y="424.2" width="274.4" height="3.7" fill="#fff"/>
<rect x="1480.45" y="38.5" width="3.7" height="405.1" fill="#fff"/>
<rect x="1518.68" y="38.5" width="2.2" height="405.1" fill="#fff"/>
<rect x="1555.41" y="38.5" width="3.7" height="405.1" fill="#fff"/>
<rect x="1593.64" y="38.5" width="2.2" height="405.1" fill="#fff"/>
<rect x="1630.37" y="38.5" width="3.7" height="405.1" fill="#fff"/>
<rect x="1668.6" y="38.5" width="2.2" height="405.1" fill="#fff"/>
<rect x="1705.33" y="38.5" width="3.7" height="405.1" fill="#fff"/>
<rect x="1481.9" y="40.55" width="91.05" height="28.7" fill="#fff" fill-opacity="0.7"/>
<rect x="1482.5" y="42.05" width="4" height="25.7" fill="#26C06A"/>
<rect x="1486.5" y="42.05" width="29.75" height="25.7" fill="#1C6412"/>
<rect x="1516.25" y="42.05" width="2.5" height="25.7" fill="#A6EEA6"/>
<rect x="1518.75" y="42.05" width="5.5" height="25.7" fill="#FAA41A"/>
<rect x="1524.25" y="42.05" width="1.25" height="25.7" fill="#BE0A23"/>
<rect x="1525.5" y="42.05" width="4" height="25.7" fill="#5A3CDC"/>
<rect x="1529.5" y="42.05" width="34.25" height="25.7" fill="#FA28BE"/>
<rect x="1563.75" y="42.05" width="1.25" height="25.7" fill="#F85AD7"/>
<rect x="1565" y="42.05" width="3" height="25.7" fill="#64C3F5"/>
<rect x="1568" y="42.05" width="2.5" height="25.7" fill="#62EED6"/>
<rect x="1570.5" y="42.05" width="1.25" height="25.7" fill="#3C6EEB"/>
<rect x="1481.9" y="69.1" width="120.05" height="28.7" fill="#fff" fill-opacity="0.7"/>
<rect x="1482.5" y="70.6" width="5.5" height="25.7" fill="#26C06A"/>
<rect x="1488" y="70.6" width="65" height="25.7" fill="#1C6412"/>
<rect x="1553" y="70.6" width="5.25" height="25.7" fill="#A6EEA6"/>
<rect x="1558.25" y="70.6" width="6.75" height="25.7" fill="#FAA41A"/>
<rect x="1565" y="70.6" width="1.25" height="25.7" fill="#BE0A23"/>
<rect x="1566.25" y="70.6" width="5.75" height="25.7" fill="#5A3CDC"/>
<rect x="1572" y="70.6" width="20" height="25.7" fill="#FA28BE"/>
<rect x="1592" y="70.6" width="5" height="25.7" fill="#64C3F5"/>
<rect x="1597" y="70.6" width="1" height="25.7" fill="#2458B4"/>
<rect x="1598" y="70.6" width="2.75" height="25.7" fill="#62EED6"/>
<rect x="1481.9" y="97.65" width="240.05" height="28.7" fill="#fff" fill-opacity="0.7"/>
<rect x="1482.5" y="99.15" width="9" height="25.7" fill="#26C06A"/>
<rect x="1491.5" y="99.15" width="112.25" height="25.7" fill="#1C6412"/>
<rect x="1603.75" y="99.15" width="12.5" height="25.7" fill="#A6EEA6"/>
<rect x="1616.25" y="99.15" width="8.75" height="25.7" fill="#FAA41A"/>
<rect x="1625" y="99.15" width="1.75" height="25.7" fill="#BE0A23"/>
<rect x="1626.75" y="99.15" width="12.75" height="25.7" fill="#5A3CDC"/>
<rect x="1639.5" y="99.15" width="59.25" height="25.7" fill="#FA28BE"/>
<rect x="1698.75" y="99.15" width="13.25" height="25.7" fill="#64C3F5"/>
<rect x="1712" y="99.15" width="1.25" height="25.7" fill="#2458B4"/>
<rect x="1713.25" y="99.15" width="6" height="25.7" fill="#62EED6"/>
<rect x="1719.25" y="99.15" width="1.5" height="25.7" fill="#3C6EEB"/>
<rect x="1481.9" y="126.2" width="133.3" height="28.7" fill="#fff" fill-opacity="0.7"/>
<rect x="1482.5" y="127.7" width="3.25" height="25.7" fill="#26C06A"/>
<rect x="1485.75" y="127.7" width="66.25" height="25.7" fill="#1C6412"/>
<rect x="1552" y="127.7" width="3.5" height="25.7" fill="#A6EEA6"/>
<rect x="1555.5" y="127.7" width="3.75" height="25.7" fill="#FAA41A"/>
<rect x="1559.25" y="127.7" width="1.5" height="25.7" fill="#BE0A23"/>
<rect x="1560.75" y="127.7" width="13" height="25.7" fill="#5A3CDC"/>
<rect x="1573.75" y="127.7" width="28.75" height="25.7" fill="#FA28BE"/>
<rect x="1602.5" y="127.7" width="8.75" height="25.7" fill="#64C3F5"/>
<rect x="1611.25" y="127.7" width="2.75" height="25.7" fill="#62EED6"/>
<rect x="1481.9" y="154.75" width="251.8" height="28.7" fill="#fff" fill-opacity="0.7"/>
<rect x="1482.5" y="156.25" width="6.25" height="25.7" fill="#26C06A"/>
<rect x="1488.75" y="156.25" width="125.5" height="25.7" fill="#1C6412"/>
<rect x="1614.25" y="156.25" width="5.75" height="25.7" fill="#A6EEA6"/>
<rect x="1620" y="156.25" width="6.25" height="25.7" fill="#FAA41A"/>
<rect x="1626.25" y="156.25" width="1.75" height="25.7" fill="#BE0A23"/>
<rect x="1628" y="156.25" width="16.5" height="25.7" fill="#5A3CDC"/>
<rect x="1644.5" y="156.25" width="64.25" height="25.7" fill="#FA28BE"/>
<rect x="1708.75" y="156.25" width="13.25" height="25.7" fill="#64C3F5"/>
<rect x="1722" y="156.25" width="1" height="25.7" fill="#2458B4"/>
<rect x="1723" y="156.25" width="9.5" height="25.7" fill="#62EED6"/>
<rect x="1481.9" y="183.3" width="90.55" height="28.7" fill="#fff" fill-opacity="0.7"/>
<rect x="1482.5" y="184.8" width="3.75" height="25.7" fill="#26C06A"/>
<rect x="1486.25" y="184.8" width="29.25" height="25.7" fill="#1C6412"/>
<rect x="1515.5" y="184.8" width="3.25" height="25.7" fill="#A6EEA6"/>
<rect x="1518.75" y="184.8" width="5" height="25.7" fill="#FAA41A"/>
<rect x="1523.75" y="184.8" width="1.25" height="25.7" fill="#BE0A23"/>
<rect x="1525" y="184.8" width="4" height="25.7" fill="#5A3CDC"/>
<rect x="1529" y="184.8" width="34.25" height="25.7" fill="#FA28BE"/>
<rect x="1563.25" y="184.8" width="5.5" height="25.7" fill="#64C3F5"/>
<rect x="1568.75" y="184.8" width="2.5" height="25.7" fill="#62EED6"/>
<rect x="1481.9" y="211.85" width="71.05" height="28.7" fill="#fff" fill-opacity="0.7"/>
<rect x="1482.5" y="213.35" width="3.25" height="25.7" fill="#26C06A"/>
<rect x="1485.75" y="213.35" width="39.75" height="25.7" fill="#1C6412"/>
<rect x="1525.5" y="213.35" width="3.25" height="25.7" fill="#A6EEA6"/>
<rect x="1528.75" y="213.35" width="5" height="25.7" fill="#FAA41A"/>
<rect x="1533.75" y="213.35" width="1.25" height="25.7" fill="#BE0A23"/>
<rect x="1535" y="213.35" width="2.5" height="25.7" fill="#5A3CDC"/>
<rect x="1537.5" y="213.35" width="10.5" height="25.7" fill="#FA28BE"/>
<rect x="1548" y="213.35" width="3.75" height="25.7" fill="#64C3F5"/>
<rect x="1481.9" y="240.4" width="113.55" height="28.7" fill="#fff" fill-opacity="0.7"/>
<rect x="1482.5" y="241.9" width="3.75" height="25.7" fill="#26C06A"/>
<rect x="1486.25" y="241.9" width="59.25" height="25.7" fill="#1C6412"/>
<rect x="1545.5" y="241.9" width="4.5" height="25.7" fill="#A6EEA6"/>
<rect x="1550" y="241.9" width="7" height="25.7" fill="#FAA41A"/>
<rect x="1557" y="241.9" width="1.25" height="25.7" fill="#BE0A23"/>
<rect x="1558.25" y="241.9" width="4.75" height="25.7" fill="#5A3CDC"/>
<rect x="1563" y="241.9" width="23.25" height="25.7" fill="#FA28BE"/>
<rect x="1586.25" y="241.9" width="5.75" height="25.7" fill="#64C3F5"/>
<rect x="1592" y="241.9" width="2.25" height="25.7" fill="#62EED6"/>
<rect x="1481.9" y="268.95" width="36.8" height="28.7" fill="#fff" fill-opacity="0.7"/>
<rect x="1482.5" y="270.45" width="0.5" height="25.7" fill="#26C06A"/>
<rect x="1483" y="270.45" width="4.5" height="25.7" fill="#1C6412"/>
<rect x="1487.5" y="270.45" width="0.75" height="25.7" fill="#A6EEA6"/>
<rect x="1488.25" y="270.45" width="1" height="25.7" fill="#FAA41A"/>
<rect x="1489.25" y="270.45" width="25.25" height="25.7" fill="#FA28BE"/>
<rect x="1514.5" y="270.45" width="3" height="25.7" fill="#64C3F5"/>
<rect x="1481.9" y="297.5" width="19.8" height="28.7" fill="#fff" fill-opacity="0.7"/>
<rect x="1482.5" y="299" width="0.5" height="25.7" fill="#26C06A"/>
<rect x="1483" y="299" width="6.25" height="25.7" fill="#1C6412"/>
<rect x="1489.25" y="299" width="1.25" height="25.7" fill="#FAA41A"/>
<rect x="1490.5" y="299" width="8.75" height="25.7" fill="#FA28BE"/>
<rect x="1499.25" y="299" width="1.25" height="25.7" fill="#64C3F5"/>
<rect x="1481.9" y="326.05" width="53.8" height="28.7" fill="#fff" fill-opacity="0.7"/>
<rect x="1482.5" y="327.55" width="0.5" height="25.7" fill="#26C06A"/>
<rect x="1483" y="327.55" width="17" height="25.7" fill="#1C6412"/>
<rect x="1500" y="327.55" width="1" height="25.7" fill="#A6EEA6"/>
<rect x="1501" y="327.55" width="1.5" height="25.7" fill="#FAA41A"/>
<rect x="1502.5" y="327.55" width="28" height="25.7" fill="#FA28BE"/>
<rect x="1530.5" y="327.55" width="4" height="25.7" fill="#64C3F5"/>
<rect x="1481.9" y="354.6" width="60.8" height="28.7" fill="#fff" fill-opacity="0.7"/>
<rect x="1482.5" y="356.1" width="0.5" height="25.7" fill="#26C06A"/>
<rect x="1483" y="356.1" width="32" height="25.7" fill="#1C6412"/>
<rect x="1515" y="356.1" width="2" height="25.7" fill="#FAA41A"/>
<rect x="1517" y="356.1" width="5.5" height="25.7" fill="#5A3CDC"/>
<rect x="1522.5" y="356.1" width="15.5" height="25.7" fill="#FA28BE"/>
<rect x="1538" y="356.1" width="3.5" height="25.7" fill="#64C3F5"/>
<rect x="1481.9" y="383.15" width="95.05" height="28.7" fill="#fff" fill-opacity="0.7"/>
<rect x="1482.5" y="384.65" width="0.5" height="25.7" fill="#26C06A"/>
<rect x="1483" y="384.65" width="54" height="25.7" fill="#1C6412"/>
<rect x="1537" y="384.65" width="2" height="25.7" fill="#FAA41A"/>
<rect x="1539" y="384.65" width="1.75" height="25.7" fill="#BE0A23"/>
<rect x="1540.75" y="384.65" width="6" height="25.7" fill="#5A3CDC"/>
<rect x="1546.75" y="384.65" width="24.5" height="25.7" fill="#FA28BE"/>
<rect x="1571.25" y="384.65" width="4.5" height="25.7" fill="#64C3F5"/>
<rect x="1481.9" y="411.7" width="73.8" height="28.7" fill="#fff" fill-opacity="0.7"/>
<rect x="1482.5" y="413.2" width="0.5" height="25.7" fill="#26C06A"/>
<rect x="1483" y="413.2" width="42.75" height="25.7" fill="#1C6412"/>
<rect x="1525.75" y="413.2" width="2.5" height="25.7" fill="#FAA41A"/>
<rect x="1528.25" y="413.2" width="1.25" height="25.7" fill="#BE0A23"/>
<rect x="1529.5" y="413.2" width="4.25" height="25.7" fill="#5A3CDC"/>
<rect x="1533.75" y="413.2" width="18.25" height="25.7" fill="#FA28BE"/>
<rect x="1552" y="413.2" width="2.5" height="25.7" fill="#64C3F5"/>
</g>
<text x="1617.5" y="30" font-size="40.2" font-weight="bold" fill="#FA32BE" stroke="#FA32BE" stroke-width="0.1" text-anchor="middle" style="font-kerning:none">SF3B4</text>
<g class="panel p6" filter="url(#soft)">
<rect x="344" y="513.75" width="274.3" height="405.75" fill="#E8EBEC"/>
<rect x="344" y="529.05" width="274.3" height="3.7" fill="#fff"/>
<rect x="344" y="557.6" width="274.3" height="3.7" fill="#fff"/>
<rect x="344" y="586.15" width="274.3" height="3.7" fill="#fff"/>
<rect x="344" y="614.7" width="274.3" height="3.7" fill="#fff"/>
<rect x="344" y="643.25" width="274.3" height="3.7" fill="#fff"/>
<rect x="344" y="671.8" width="274.3" height="3.7" fill="#fff"/>
<rect x="344" y="700.35" width="274.3" height="3.7" fill="#fff"/>
<rect x="344" y="728.9" width="274.3" height="3.7" fill="#fff"/>
<rect x="344" y="757.45" width="274.3" height="3.7" fill="#fff"/>
<rect x="344" y="786" width="274.3" height="3.7" fill="#fff"/>
<rect x="344" y="814.55" width="274.3" height="3.7" fill="#fff"/>
<rect x="344" y="843.1" width="274.3" height="3.7" fill="#fff"/>
<rect x="344" y="871.65" width="274.3" height="3.7" fill="#fff"/>
<rect x="344" y="900.2" width="274.3" height="3.7" fill="#fff"/>
<rect x="354.4" y="513.75" width="3.7" height="405.75" fill="#fff"/>
<rect x="388" y="513.75" width="2.2" height="405.75" fill="#fff"/>
<rect x="420.1" y="513.75" width="3.7" height="405.75" fill="#fff"/>
<rect x="453.7" y="513.75" width="2.2" height="405.75" fill="#fff"/>
<rect x="485.8" y="513.75" width="3.7" height="405.75" fill="#fff"/>
<rect x="519.4" y="513.75" width="2.2" height="405.75" fill="#fff"/>
<rect x="551.5" y="513.75" width="3.7" height="405.75" fill="#fff"/>
<rect x="585.1" y="513.75" width="2.2" height="405.75" fill="#fff"/>
<rect x="355.65" y="516.55" width="125.05" height="28.7" fill="#fff" fill-opacity="0.7"/>
<rect x="356.25" y="518.05" width="3.75" height="25.7" fill="#26C06A"/>
<rect x="360" y="518.05" width="31.75" height="25.7" fill="#1C6412"/>
<rect x="391.75" y="518.05" width="70.75" height="25.7" fill="#A6EEA6"/>
<rect x="462.5" y="518.05" width="3.75" height="25.7" fill="#FAA41A"/>
<rect x="466.25" y="518.05" width="1.25" height="25.7" fill="#BE0A23"/>
<rect x="467.5" y="518.05" width="1.75" height="25.7" fill="#5A3CDC"/>
<rect x="469.25" y="518.05" width="2" height="25.7" fill="#64C3F5"/>
<rect x="471.25" y="518.05" width="6.25" height="25.7" fill="#62EED6"/>
<rect x="477.5" y="518.05" width="2" height="25.7" fill="#3C6EEB"/>
<rect x="355.65" y="545.1" width="134.8" height="28.7" fill="#fff" fill-opacity="0.7"/>
<rect x="356.25" y="546.6" width="3.75" height="25.7" fill="#26C06A"/>
<rect x="360" y="546.6" width="37" height="25.7" fill="#1C6412"/>
<rect x="397" y="546.6" width="70" height="25.7" fill="#A6EEA6"/>
<rect x="467" y="546.6" width="4.75" height="25.7" fill="#FAA41A"/>
<rect x="471.75" y="546.6" width="1.25" height="25.7" fill="#BE0A23"/>
<rect x="473" y="546.6" width="2" height="25.7" fill="#5A3CDC"/>
<rect x="475" y="546.6" width="2" height="25.7" fill="#64C3F5"/>
<rect x="477" y="546.6" width="1" height="25.7" fill="#2458B4"/>
<rect x="478" y="546.6" width="9" height="25.7" fill="#62EED6"/>
<rect x="487" y="546.6" width="2.25" height="25.7" fill="#3C6EEB"/>
<rect x="355.65" y="573.65" width="212.55" height="28.7" fill="#fff" fill-opacity="0.7"/>
<rect x="356.25" y="575.15" width="6.25" height="25.7" fill="#26C06A"/>
<rect x="362.5" y="575.15" width="54.25" height="25.7" fill="#1C6412"/>
<rect x="416.75" y="575.15" width="108.75" height="25.7" fill="#A6EEA6"/>
<rect x="525.5" y="575.15" width="6.5" height="25.7" fill="#FAA41A"/>
<rect x="532" y="575.15" width="1.25" height="25.7" fill="#BE0A23"/>
<rect x="533.25" y="575.15" width="2.5" height="25.7" fill="#5A3CDC"/>
<rect x="535.75" y="575.15" width="1.75" height="25.7" fill="#837AE2"/>
<rect x="537.5" y="575.15" width="4.5" height="25.7" fill="#64C3F5"/>
<rect x="542" y="575.15" width="1.25" height="25.7" fill="#2458B4"/>
<rect x="543.25" y="575.15" width="18.75" height="25.7" fill="#62EED6"/>
<rect x="562" y="575.15" width="5" height="25.7" fill="#3C6EEB"/>
<rect x="355.65" y="602.2" width="137.3" height="28.7" fill="#fff" fill-opacity="0.7"/>
<rect x="356.25" y="603.7" width="3.75" height="25.7" fill="#26C06A"/>
<rect x="360" y="603.7" width="32.5" height="25.7" fill="#1C6412"/>
<rect x="392.5" y="603.7" width="66.75" height="25.7" fill="#A6EEA6"/>
<rect x="459.25" y="603.7" width="2.75" height="25.7" fill="#FAA41A"/>
<rect x="462" y="603.7" width="1.25" height="25.7" fill="#BE0A23"/>
<rect x="463.25" y="603.7" width="1.75" height="25.7" fill="#5A3CDC"/>
<rect x="465" y="603.7" width="6.25" height="25.7" fill="#64C3F5"/>
<rect x="471.25" y="603.7" width="18.25" height="25.7" fill="#62EED6"/>
<rect x="489.5" y="603.7" width="2.25" height="25.7" fill="#3C6EEB"/>
<rect x="355.65" y="630.75" width="251.8" height="28.7" fill="#fff" fill-opacity="0.7"/>
<rect x="356.25" y="632.25" width="7.5" height="25.7" fill="#26C06A"/>
<rect x="363.75" y="632.25" width="60.5" height="25.7" fill="#1C6412"/>
<rect x="424.25" y="632.25" width="95" height="25.7" fill="#A6EEA6"/>
<rect x="519.25" y="632.25" width="5.75" height="25.7" fill="#FAA41A"/>
<rect x="525" y="632.25" width="0.75" height="25.7" fill="#BE0A23"/>
<rect x="525.75" y="632.25" width="3.75" height="25.7" fill="#5A3CDC"/>
<rect x="529.5" y="632.25" width="3.5" height="25.7" fill="#C850DC"/>
<rect x="533" y="632.25" width="12.75" height="25.7" fill="#64C3F5"/>
<rect x="545.75" y="632.25" width="2.25" height="25.7" fill="#2458B4"/>
<rect x="548" y="632.25" width="51.25" height="25.7" fill="#62EED6"/>
<rect x="599.25" y="632.25" width="7" height="25.7" fill="#3C6EEB"/>
<rect x="355.65" y="659.3" width="59.05" height="28.7" fill="#fff" fill-opacity="0.7"/>
<rect x="356.25" y="660.8" width="1.25" height="25.7" fill="#26C06A"/>
<rect x="357.5" y="660.8" width="6.75" height="25.7" fill="#1C6412"/>
<rect x="364.25" y="660.8" width="44" height="25.7" fill="#A6EEA6"/>
<rect x="408.25" y="660.8" width="2.5" height="25.7" fill="#FAA41A"/>
<rect x="410.75" y="660.8" width="1" height="25.7" fill="#BE0A23"/>
<rect x="411.75" y="660.8" width="0.75" height="25.7" fill="#5A3CDC"/>
<rect x="412.5" y="660.8" width="1" height="25.7" fill="#64C3F5"/>
<rect x="355.65" y="687.85" width="61.3" height="28.7" fill="#fff" fill-opacity="0.7"/>
<rect x="356.25" y="689.35" width="1.75" height="25.7" fill="#26C06A"/>
<rect x="358" y="689.35" width="7.75" height="25.7" fill="#1C6412"/>
<rect x="365.75" y="689.35" width="44.25" height="25.7" fill="#A6EEA6"/>
<rect x="410" y="689.35" width="2.5" height="25.7" fill="#FAA41A"/>
<rect x="412.5" y="689.35" width="1" height="25.7" fill="#BE0A23"/>
<rect x="413.5" y="689.35" width="0.75" height="25.7" fill="#5A3CDC"/>
<rect x="414.25" y="689.35" width="1.5" height="25.7" fill="#3C6EEB"/>
<rect x="355.65" y="716.4" width="90.55" height="28.7" fill="#fff" fill-opacity="0.7"/>
<rect x="356.25" y="717.9" width="1.75" height="25.7" fill="#26C06A"/>
<rect x="358" y="717.9" width="10" height="25.7" fill="#1C6412"/>
<rect x="368" y="717.9" width="70.25" height="25.7" fill="#A6EEA6"/>
<rect x="438.25" y="717.9" width="3.5" height="25.7" fill="#FAA41A"/>
<rect x="441.75" y="717.9" width="1.25" height="25.7" fill="#BE0A23"/>
<rect x="443" y="717.9" width="2" height="25.7" fill="#3C6EEB"/>
<rect x="355.65" y="744.95" width="21.8" height="28.7" fill="#fff" fill-opacity="0.7"/>
<rect x="356.25" y="746.45" width="0.75" height="25.7" fill="#1C6412"/>
<rect x="357" y="746.45" width="17.5" height="25.7" fill="#A6EEA6"/>
<rect x="374.5" y="746.45" width="1" height="25.7" fill="#5E8468"/>
<rect x="375.5" y="746.45" width="0.75" height="25.7" fill="#3C6EEB"/>
<rect x="355.65" y="773.5" width="24.8" height="28.7" fill="#fff" fill-opacity="0.7"/>
<rect x="356.25" y="775" width="0.75" height="25.7" fill="#1C6412"/>
<rect x="357" y="775" width="20.5" height="25.7" fill="#A6EEA6"/>
<rect x="377.5" y="775" width="0.75" height="25.7" fill="#5E8468"/>
<rect x="378.25" y="775" width="1" height="25.7" fill="#3C6EEB"/>
<rect x="355.65" y="802.05" width="32.3" height="28.7" fill="#fff" fill-opacity="0.7"/>
<rect x="356.25" y="803.55" width="0.75" height="25.7" fill="#1C6412"/>
<rect x="357" y="803.55" width="28" height="25.7" fill="#A6EEA6"/>
<rect x="385" y="803.55" width="0.75" height="25.7" fill="#5E8468"/>
<rect x="385.75" y="803.55" width="1" height="25.7" fill="#5A3CDC"/>
<rect x="355.65" y="830.6" width="22.3" height="28.7" fill="#fff" fill-opacity="0.7"/>
<rect x="356.25" y="832.1" width="0.75" height="25.7" fill="#1C6412"/>
<rect x="357" y="832.1" width="16" height="25.7" fill="#A6EEA6"/>
<rect x="373" y="832.1" width="1" height="25.7" fill="#5E8468"/>
<rect x="374" y="832.1" width="2.75" height="25.7" fill="#64C3F5"/>
<rect x="355.65" y="859.15" width="29.3" height="28.7" fill="#fff" fill-opacity="0.7"/>
<rect x="356.25" y="860.65" width="0.75" height="25.7" fill="#1C6412"/>
<rect x="357" y="860.65" width="16" height="25.7" fill="#A6EEA6"/>
<rect x="373" y="860.65" width="1.25" height="25.7" fill="#5E8468"/>
<rect x="374.25" y="860.65" width="2.5" height="25.7" fill="#64C3F5"/>
<rect x="376.75" y="860.65" width="7" height="25.7" fill="#62EED6"/>
<rect x="355.65" y="887.7" width="17.55" height="28.7" fill="#fff" fill-opacity="0.7"/>
<rect x="356.25" y="889.2" width="0.75" height="25.7" fill="#1C6412"/>
<rect x="357" y="889.2" width="11.25" height="25.7" fill="#A6EEA6"/>
<rect x="368.25" y="889.2" width="1" height="25.7" fill="#5E8468"/>
<rect x="369.25" y="889.2" width="2.75" height="25.7" fill="#86C6DA"/>
</g>
<text x="501" y="508.3" font-size="40.2" font-weight="bold" fill="#99DC9B" stroke="#99DC9B" stroke-width="0.1" text-anchor="middle" style="font-kerning:none">FAM120A</text>
<g class="panel p7" filter="url(#soft)">
<rect x="625.4" y="513.75" width="274.1" height="405.75" fill="#E8EBEC"/>
<rect x="625.4" y="529.05" width="274.1" height="3.7" fill="#fff"/>
<rect x="625.4" y="557.6" width="274.1" height="3.7" fill="#fff"/>
<rect x="625.4" y="586.15" width="274.1" height="3.7" fill="#fff"/>
<rect x="625.4" y="614.7" width="274.1" height="3.7" fill="#fff"/>
<rect x="625.4" y="643.25" width="274.1" height="3.7" fill="#fff"/>
<rect x="625.4" y="671.8" width="274.1" height="3.7" fill="#fff"/>
<rect x="625.4" y="700.35" width="274.1" height="3.7" fill="#fff"/>
<rect x="625.4" y="728.9" width="274.1" height="3.7" fill="#fff"/>
<rect x="625.4" y="757.45" width="274.1" height="3.7" fill="#fff"/>
<rect x="625.4" y="786" width="274.1" height="3.7" fill="#fff"/>
<rect x="625.4" y="814.55" width="274.1" height="3.7" fill="#fff"/>
<rect x="625.4" y="843.1" width="274.1" height="3.7" fill="#fff"/>
<rect x="625.4" y="871.65" width="274.1" height="3.7" fill="#fff"/>
<rect x="625.4" y="900.2" width="274.1" height="3.7" fill="#fff"/>
<rect x="635.65" y="513.75" width="3.7" height="405.75" fill="#fff"/>
<rect x="670.37" y="513.75" width="2.2" height="405.75" fill="#fff"/>
<rect x="703.59" y="513.75" width="3.7" height="405.75" fill="#fff"/>
<rect x="738.31" y="513.75" width="2.2" height="405.75" fill="#fff"/>
<rect x="771.53" y="513.75" width="3.7" height="405.75" fill="#fff"/>
<rect x="806.25" y="513.75" width="2.2" height="405.75" fill="#fff"/>
<rect x="839.47" y="513.75" width="3.7" height="405.75" fill="#fff"/>
<rect x="874.19" y="513.75" width="2.2" height="405.75" fill="#fff"/>
<rect x="636.9" y="516.55" width="249.3" height="28.7" fill="#fff" fill-opacity="0.7"/>
<rect x="637.5" y="518.05" width="8.75" height="25.7" fill="#26C06A"/>
<rect x="646.25" y="518.05" width="117.5" height="25.7" fill="#1C6412"/>
<rect x="763.75" y="518.05" width="102" height="25.7" fill="#A6EEA6"/>
<rect x="865.75" y="518.05" width="8" height="25.7" fill="#FAA41A"/>
<rect x="873.75" y="518.05" width="1.75" height="25.7" fill="#BE0A23"/>
<rect x="875.5" y="518.05" width="2.5" height="25.7" fill="#5A3CDC"/>
<rect x="878" y="518.05" width="2" height="25.7" fill="#837AE2"/>
<rect x="880" y="518.05" width="2.5" height="25.7" fill="#64C3F5"/>
<rect x="882.5" y="518.05" width="2.5" height="25.7" fill="#3C6EEB"/>
<rect x="636.9" y="545.1" width="106.05" height="28.7" fill="#fff" fill-opacity="0.7"/>
<rect x="637.5" y="546.6" width="3.75" height="25.7" fill="#26C06A"/>
<rect x="641.25" y="546.6" width="48.75" height="25.7" fill="#1C6412"/>
<rect x="690" y="546.6" width="41.25" height="25.7" fill="#A6EEA6"/>
<rect x="731.25" y="546.6" width="4.5" height="25.7" fill="#FAA41A"/>
<rect x="735.75" y="546.6" width="1.75" height="25.7" fill="#BE0A23"/>
<rect x="737.5" y="546.6" width="2.5" height="25.7" fill="#64C3F5"/>
<rect x="740" y="546.6" width="1.75" height="25.7" fill="#3C6EEB"/>
<rect x="636.9" y="573.65" width="180.05" height="28.7" fill="#fff" fill-opacity="0.7"/>
<rect x="637.5" y="575.15" width="5.75" height="25.7" fill="#26C06A"/>
<rect x="643.25" y="575.15" width="82.5" height="25.7" fill="#1C6412"/>
<rect x="725.75" y="575.15" width="76.75" height="25.7" fill="#A6EEA6"/>
<rect x="802.5" y="575.15" width="5.5" height="25.7" fill="#FAA41A"/>
<rect x="808" y="575.15" width="1.5" height="25.7" fill="#BE0A23"/>
<rect x="809.5" y="575.15" width="1.75" height="25.7" fill="#5A3CDC"/>
<rect x="811.25" y="575.15" width="2.5" height="25.7" fill="#64C3F5"/>
<rect x="813.75" y="575.15" width="2" height="25.7" fill="#3C6EEB"/>
<rect x="636.9" y="602.2" width="137.55" height="28.7" fill="#fff" fill-opacity="0.7"/>
<rect x="637.5" y="603.7" width="8.75" height="25.7" fill="#26C06A"/>
<rect x="646.25" y="603.7" width="79.25" height="25.7" fill="#1C6412"/>
<rect x="725.5" y="603.7" width="38.75" height="25.7" fill="#A6EEA6"/>
<rect x="764.25" y="603.7" width="2.5" height="25.7" fill="#FAA41A"/>
<rect x="766.75" y="603.7" width="1.25" height="25.7" fill="#BE0A23"/>
<rect x="768" y="603.7" width="3.25" height="25.7" fill="#64C3F5"/>
<rect x="771.25" y="603.7" width="2" height="25.7" fill="#3C6EEB"/>
<rect x="636.9" y="630.75" width="210.05" height="28.7" fill="#fff" fill-opacity="0.7"/>
<rect x="637.5" y="632.25" width="9.25" height="25.7" fill="#26C06A"/>
<rect x="646.75" y="632.25" width="102.5" height="25.7" fill="#1C6412"/>
<rect x="749.25" y="632.25" width="67.5" height="25.7" fill="#A6EEA6"/>
<rect x="816.75" y="632.25" width="3.75" height="25.7" fill="#FAA41A"/>
<rect x="820.5" y="632.25" width="2" height="25.7" fill="#BE0A23"/>
<rect x="822.5" y="632.25" width="0.5" height="25.7" fill="#837AE2"/>
<rect x="823" y="632.25" width="3.25" height="25.7" fill="#64C3F5"/>
<rect x="826.25" y="632.25" width="2.5" height="25.7" fill="#3C6EEB"/>
<rect x="828.75" y="632.25" width="15" height="25.7" fill="#62EED6"/>
<rect x="843.75" y="632.25" width="2" height="25.7" fill="#3C6EEB"/>
<rect x="636.9" y="659.3" width="64.8" height="28.7" fill="#fff" fill-opacity="0.7"/>
<rect x="637.5" y="660.8" width="0.75" height="25.7" fill="#26C06A"/>
<rect x="638.25" y="660.8" width="22.25" height="25.7" fill="#1C6412"/>
<rect x="660.5" y="660.8" width="34" height="25.7" fill="#A6EEA6"/>
<rect x="694.5" y="660.8" width="4.25" height="25.7" fill="#FAA41A"/>
<rect x="698.75" y="660.8" width="1.75" height="25.7" fill="#BE0A23"/>
<rect x="636.9" y="687.85" width="33.8" height="28.7" fill="#fff" fill-opacity="0.7"/>
<rect x="637.5" y="689.35" width="0.75" height="25.7" fill="#26C06A"/>
<rect x="638.25" y="689.35" width="12.25" height="25.7" fill="#1C6412"/>
<rect x="650.5" y="689.35" width="14.5" height="25.7" fill="#A6EEA6"/>
<rect x="665" y="689.35" width="3" height="25.7" fill="#FAA41A"/>
<rect x="668" y="689.35" width="1.5" height="25.7" fill="#BE0A23"/>
<rect x="636.9" y="716.4" width="56.3" height="28.7" fill="#fff" fill-opacity="0.7"/>
<rect x="637.5" y="717.9" width="0.75" height="25.7" fill="#26C06A"/>
<rect x="638.25" y="717.9" width="19.75" height="25.7" fill="#1C6412"/>
<rect x="658" y="717.9" width="28.75" height="25.7" fill="#A6EEA6"/>
<rect x="686.75" y="717.9" width="3.75" height="25.7" fill="#FAA41A"/>
<rect x="690.5" y="717.9" width="1.5" height="25.7" fill="#BE0A23"/>
<rect x="636.9" y="744.95" width="16.55" height="28.7" fill="#fff" fill-opacity="0.7"/>
<rect x="637.5" y="746.45" width="5" height="25.7" fill="#1C6412"/>
<rect x="642.5" y="746.45" width="8.5" height="25.7" fill="#A6EEA6"/>
<rect x="651" y="746.45" width="1.25" height="25.7" fill="#8C7C90"/>
<rect x="636.9" y="773.5" width="9.8" height="28.7" fill="#fff" fill-opacity="0.7"/>
<rect x="637.5" y="775" width="3.25" height="25.7" fill="#1C6412"/>
<rect x="640.75" y="775" width="3.75" height="25.7" fill="#A6EEA6"/>
<rect x="644.5" y="775" width="1" height="25.7" fill="#8C7C90"/>
<rect x="636.9" y="802.05" width="17.3" height="28.7" fill="#fff" fill-opacity="0.7"/>
<rect x="637.5" y="803.55" width="6.75" height="25.7" fill="#1C6412"/>
<rect x="644.25" y="803.55" width="7.5" height="25.7" fill="#A6EEA6"/>
<rect x="651.75" y="803.55" width="1.25" height="25.7" fill="#8C7C90"/>
<rect x="636.9" y="830.6" width="28.05" height="28.7" fill="#fff" fill-opacity="0.7"/>
<rect x="637.5" y="832.1" width="1" height="25.7" fill="#26C06A"/>
<rect x="638.5" y="832.1" width="15.25" height="25.7" fill="#1C6412"/>
<rect x="653.75" y="832.1" width="8.75" height="25.7" fill="#A6EEA6"/>
<rect x="662.5" y="832.1" width="1.25" height="25.7" fill="#8C7C90"/>
<rect x="636.9" y="859.15" width="23.55" height="28.7" fill="#fff" fill-opacity="0.7"/>
<rect x="637.5" y="860.65" width="10.5" height="25.7" fill="#1C6412"/>
<rect x="648" y="860.65" width="9.25" height="25.7" fill="#A6EEA6"/>
<rect x="657.25" y="860.65" width="2" height="25.7" fill="#6E8ECC"/>
<rect x="636.9" y="887.7" width="25.8" height="28.7" fill="#fff" fill-opacity="0.7"/>
<rect x="637.5" y="889.2" width="13" height="25.7" fill="#1C6412"/>
<rect x="650.5" y="889.2" width="9.5" height="25.7" fill="#A6EEA6"/>
<rect x="660" y="889.2" width="1.5" height="25.7" fill="#8C7C90"/>
</g>
<text x="787" y="508.3" font-size="40.2" font-weight="bold" fill="#99DC9B" stroke="#99DC9B" stroke-width="0.1" text-anchor="middle" style="font-kerning:none">IGF2BP2</text>
<g class="panel p8" filter="url(#soft)">
<rect x="906.2" y="513.75" width="276.6" height="405.75" fill="#E8EBEC"/>
<rect x="906.2" y="529.05" width="276.6" height="3.7" fill="#fff"/>
<rect x="906.2" y="557.6" width="276.6" height="3.7" fill="#fff"/>
<rect x="906.2" y="586.15" width="276.6" height="3.7" fill="#fff"/>
<rect x="906.2" y="614.7" width="276.6" height="3.7" fill="#fff"/>
<rect x="906.2" y="643.25" width="276.6" height="3.7" fill="#fff"/>
<rect x="906.2" y="671.8" width="276.6" height="3.7" fill="#fff"/>
<rect x="906.2" y="700.35" width="276.6" height="3.7" fill="#fff"/>
<rect x="906.2" y="728.9" width="276.6" height="3.7" fill="#fff"/>
<rect x="906.2" y="757.45" width="276.6" height="3.7" fill="#fff"/>
<rect x="906.2" y="786" width="276.6" height="3.7" fill="#fff"/>
<rect x="906.2" y="814.55" width="276.6" height="3.7" fill="#fff"/>
<rect x="906.2" y="843.1" width="276.6" height="3.7" fill="#fff"/>
<rect x="906.2" y="871.65" width="276.6" height="3.7" fill="#fff"/>
<rect x="906.2" y="900.2" width="276.6" height="3.7" fill="#fff"/>
<rect x="917.65" y="513.75" width="3.7" height="405.75" fill="#fff"/>
<rect x="943.23" y="513.75" width="2.2" height="405.75" fill="#fff"/>
<rect x="967.31" y="513.75" width="3.7" height="405.75" fill="#fff"/>
<rect x="992.89" y="513.75" width="2.2" height="405.75" fill="#fff"/>
<rect x="1016.97" y="513.75" width="3.7" height="405.75" fill="#fff"/>
<rect x="1042.55" y="513.75" width="2.2" height="405.75" fill="#fff"/>
<rect x="1066.63" y="513.75" width="3.7" height="405.75" fill="#fff"/>
<rect x="1092.21" y="513.75" width="2.2" height="405.75" fill="#fff"/>
<rect x="1116.29" y="513.75" width="3.7" height="405.75" fill="#fff"/>
<rect x="1141.87" y="513.75" width="2.2" height="405.75" fill="#fff"/>
<rect x="1165.95" y="513.75" width="3.7" height="405.75" fill="#fff"/>
<rect x="918.9" y="516.55" width="53.3" height="28.7" fill="#fff" fill-opacity="0.7"/>
<rect x="919.5" y="518.05" width="3" height="25.7" fill="#26C06A"/>
<rect x="922.5" y="518.05" width="12" height="25.7" fill="#1C6412"/>
<rect x="934.5" y="518.05" width="14.75" height="25.7" fill="#A6EEA6"/>
<rect x="949.25" y="518.05" width="15.25" height="25.7" fill="#FAA41A"/>
<rect x="964.5" y="518.05" width="1.75" height="25.7" fill="#BE0A23"/>
<rect x="966.25" y="518.05" width="1.75" height="25.7" fill="#5A3CDC"/>
<rect x="968" y="518.05" width="1.5" height="25.7" fill="#64C3F5"/>
<rect x="969.5" y="518.05" width="1.5" height="25.7" fill="#3C6EEB"/>
<rect x="918.9" y="545.1" width="36.3" height="28.7" fill="#fff" fill-opacity="0.7"/>
<rect x="919.5" y="546.6" width="1.75" height="25.7" fill="#26C06A"/>
<rect x="921.25" y="546.6" width="9.25" height="25.7" fill="#1C6412"/>
<rect x="930.5" y="546.6" width="6.5" height="25.7" fill="#A6EEA6"/>
<rect x="937" y="546.6" width="15" height="25.7" fill="#FAA41A"/>
<rect x="952" y="546.6" width="1" height="25.7" fill="#BE0A23"/>
<rect x="953" y="546.6" width="1" height="25.7" fill="#5A3CDC"/>
<rect x="918.9" y="573.65" width="67.8" height="28.7" fill="#fff" fill-opacity="0.7"/>
<rect x="919.5" y="575.15" width="2.5" height="25.7" fill="#26C06A"/>
<rect x="922" y="575.15" width="15" height="25.7" fill="#1C6412"/>
<rect x="937" y="575.15" width="24.25" height="25.7" fill="#A6EEA6"/>
<rect x="961.25" y="575.15" width="18.25" height="25.7" fill="#FAA41A"/>
<rect x="979.5" y="575.15" width="1.75" height="25.7" fill="#BE0A23"/>
<rect x="981.25" y="575.15" width="1.25" height="25.7" fill="#5A3CDC"/>
<rect x="982.5" y="575.15" width="1.75" height="25.7" fill="#64C3F5"/>
<rect x="984.25" y="575.15" width="1.25" height="25.7" fill="#3C6EEB"/>
<rect x="918.9" y="602.2" width="39.3" height="28.7" fill="#fff" fill-opacity="0.7"/>
<rect x="919.5" y="603.7" width="1" height="25.7" fill="#26C06A"/>
<rect x="920.5" y="603.7" width="5" height="25.7" fill="#1C6412"/>
<rect x="925.5" y="603.7" width="27.5" height="25.7" fill="#A6EEA6"/>
<rect x="953" y="603.7" width="3.25" height="25.7" fill="#FAA41A"/>
<rect x="956.25" y="603.7" width="0.75" height="25.7" fill="#BE0A23"/>
<rect x="918.9" y="630.75" width="50.3" height="28.7" fill="#fff" fill-opacity="0.7"/>
<rect x="919.5" y="632.25" width="1.75" height="25.7" fill="#26C06A"/>
<rect x="921.25" y="632.25" width="9.5" height="25.7" fill="#1C6412"/>
<rect x="930.75" y="632.25" width="28.75" height="25.7" fill="#A6EEA6"/>
<rect x="959.5" y="632.25" width="6.75" height="25.7" fill="#FAA41A"/>
<rect x="966.25" y="632.25" width="1.75" height="25.7" fill="#BE0A23"/>
<rect x="918.9" y="659.3" width="53.05" height="28.7" fill="#fff" fill-opacity="0.7"/>
<rect x="919.5" y="660.8" width="3" height="25.7" fill="#26C06A"/>
<rect x="922.5" y="660.8" width="11.75" height="25.7" fill="#1C6412"/>
<rect x="934.25" y="660.8" width="14.5" height="25.7" fill="#A6EEA6"/>
<rect x="948.75" y="660.8" width="15.5" height="25.7" fill="#FAA41A"/>
<rect x="964.25" y="660.8" width="1.5" height="25.7" fill="#BE0A23"/>
<rect x="965.75" y="660.8" width="1.75" height="25.7" fill="#5A3CDC"/>
<rect x="967.5" y="660.8" width="1.75" height="25.7" fill="#64C3F5"/>
<rect x="969.25" y="660.8" width="1.5" height="25.7" fill="#3C6EEB"/>
<rect x="918.9" y="687.85" width="37.05" height="28.7" fill="#fff" fill-opacity="0.7"/>
<rect x="919.5" y="689.35" width="1.75" height="25.7" fill="#26C06A"/>
<rect x="921.25" y="689.35" width="9.25" height="25.7" fill="#1C6412"/>
<rect x="930.5" y="689.35" width="6.5" height="25.7" fill="#A6EEA6"/>
<rect x="937" y="689.35" width="14.75" height="25.7" fill="#FAA41A"/>
<rect x="951.75" y="689.35" width="1" height="25.7" fill="#BE0A23"/>
<rect x="952.75" y="689.35" width="1" height="25.7" fill="#5A3CDC"/>
<rect x="953.75" y="689.35" width="1" height="25.7" fill="#3C6EEB"/>
<rect x="918.9" y="716.4" width="67.3" height="28.7" fill="#fff" fill-opacity="0.7"/>
<rect x="919.5" y="717.9" width="2.5" height="25.7" fill="#26C06A"/>
<rect x="922" y="717.9" width="14.75" height="25.7" fill="#1C6412"/>
<rect x="936.75" y="717.9" width="24.5" height="25.7" fill="#A6EEA6"/>
<rect x="961.25" y="717.9" width="17.5" height="25.7" fill="#FAA41A"/>
<rect x="978.75" y="717.9" width="1.75" height="25.7" fill="#BE0A23"/>
<rect x="980.5" y="717.9" width="1.25" height="25.7" fill="#5A3CDC"/>
<rect x="981.75" y="717.9" width="2" height="25.7" fill="#64C3F5"/>
<rect x="983.75" y="717.9" width="1.25" height="25.7" fill="#3C6EEB"/>
<rect x="918.9" y="744.95" width="16.2" height="28.7" fill="#fff" fill-opacity="0.7"/>
<rect x="919.5" y="746.45" width="3" height="25.7" fill="#1C6412"/>
<rect x="922.5" y="746.45" width="6" height="25.7" fill="#A6EEA6"/>
<rect x="928.5" y="746.45" width="1.9" height="25.7" fill="#8C7C90"/>
<rect x="930.4" y="746.45" width="3.5" height="25.7" fill="#6E8ECC"/>
<rect x="918.9" y="773.5" width="9.2" height="28.7" fill="#fff" fill-opacity="0.7"/>
<rect x="919.5" y="775" width="3" height="25.7" fill="#1C6412"/>
<rect x="922.5" y="775" width="1.75" height="25.7" fill="#A6EEA6"/>
<rect x="924.25" y="775" width="0.75" height="25.7" fill="#8C7C90"/>
<rect x="925" y="775" width="1.9" height="25.7" fill="#6E8ECC"/>
<rect x="918.9" y="802.05" width="18.3" height="28.7" fill="#fff" fill-opacity="0.7"/>
<rect x="919.5" y="803.55" width="3" height="25.7" fill="#1C6412"/>
<rect x="922.5" y="803.55" width="9.25" height="25.7" fill="#A6EEA6"/>
<rect x="931.75" y="803.55" width="0.88" height="25.7" fill="#D2A868"/>
<rect x="932.62" y="803.55" width="3.38" height="25.7" fill="#6E8ECC"/>
<rect x="918.9" y="830.6" width="34.17" height="28.7" fill="#fff" fill-opacity="0.7"/>
<rect x="919.5" y="832.1" width="4.4" height="25.7" fill="#1C6412"/>
<rect x="923.9" y="832.1" width="26.23" height="25.7" fill="#A6EEA6"/>
<rect x="950.12" y="832.1" width="0.88" height="25.7" fill="#D2A868"/>
<rect x="951" y="832.1" width="0.88" height="25.7" fill="#8C7C90"/>
<rect x="918.9" y="859.15" width="33.05" height="28.7" fill="#fff" fill-opacity="0.7"/>
<rect x="919.5" y="860.65" width="4.4" height="25.7" fill="#1C6412"/>
<rect x="923.9" y="860.65" width="24.85" height="25.7" fill="#A6EEA6"/>
<rect x="948.75" y="860.65" width="2" height="25.7" fill="#D2A868"/>
<rect x="918.9" y="887.7" width="251.55" height="28.7" fill="#fff" fill-opacity="0.7"/>
<rect x="919.5" y="889.2" width="41.75" height="25.7" fill="#1C6412"/>
<rect x="961.25" y="889.2" width="202.5" height="25.7" fill="#A6EEA6"/>
<rect x="1163.75" y="889.2" width="3.25" height="25.7" fill="#FAA41A"/>
<rect x="1167" y="889.2" width="1" height="25.7" fill="#BE0A23"/>
<rect x="1168" y="889.2" width="1.25" height="25.7" fill="#5A3CDC"/>
</g>
<text x="1061" y="508.3" font-size="40.2" font-weight="bold" fill="#99DC9B" stroke="#99DC9B" stroke-width="0.1" text-anchor="middle" style="font-kerning:none">PUM2</text>
<g class="panel p9" filter="url(#soft)">
<rect x="1187.9" y="513.75" width="275.5" height="405.75" fill="#E8EBEC"/>
<rect x="1187.9" y="529.05" width="275.5" height="3.7" fill="#fff"/>
<rect x="1187.9" y="557.6" width="275.5" height="3.7" fill="#fff"/>
<rect x="1187.9" y="586.15" width="275.5" height="3.7" fill="#fff"/>
<rect x="1187.9" y="614.7" width="275.5" height="3.7" fill="#fff"/>
<rect x="1187.9" y="643.25" width="275.5" height="3.7" fill="#fff"/>
<rect x="1187.9" y="671.8" width="275.5" height="3.7" fill="#fff"/>
<rect x="1187.9" y="700.35" width="275.5" height="3.7" fill="#fff"/>
<rect x="1187.9" y="728.9" width="275.5" height="3.7" fill="#fff"/>
<rect x="1187.9" y="757.45" width="275.5" height="3.7" fill="#fff"/>
<rect x="1187.9" y="786" width="275.5" height="3.7" fill="#fff"/>
<rect x="1187.9" y="814.55" width="275.5" height="3.7" fill="#fff"/>
<rect x="1187.9" y="843.1" width="275.5" height="3.7" fill="#fff"/>
<rect x="1187.9" y="871.65" width="275.5" height="3.7" fill="#fff"/>
<rect x="1187.9" y="900.2" width="275.5" height="3.7" fill="#fff"/>
<rect x="1198.9" y="513.75" width="3.7" height="405.75" fill="#fff"/>
<rect x="1230.85" y="513.75" width="2.2" height="405.75" fill="#fff"/>
<rect x="1261.3" y="513.75" width="3.7" height="405.75" fill="#fff"/>
<rect x="1293.25" y="513.75" width="2.2" height="405.75" fill="#fff"/>
<rect x="1323.7" y="513.75" width="3.7" height="405.75" fill="#fff"/>
<rect x="1355.65" y="513.75" width="2.2" height="405.75" fill="#fff"/>
<rect x="1386.1" y="513.75" width="3.7" height="405.75" fill="#fff"/>
<rect x="1418.05" y="513.75" width="2.2" height="405.75" fill="#fff"/>
<rect x="1448.5" y="513.75" width="3.7" height="405.75" fill="#fff"/>
<rect x="1200.15" y="516.55" width="97.8" height="28.7" fill="#fff" fill-opacity="0.7"/>
<rect x="1200.75" y="518.05" width="6.25" height="25.7" fill="#26C06A"/>
<rect x="1207" y="518.05" width="43" height="25.7" fill="#1C6412"/>
<rect x="1250" y="518.05" width="25.75" height="25.7" fill="#A6EEA6"/>
<rect x="1275.75" y="518.05" width="12.25" height="25.7" fill="#FAA41A"/>
<rect x="1288" y="518.05" width="1.5" height="25.7" fill="#BE0A23"/>
<rect x="1289.5" y="518.05" width="1.75" height="25.7" fill="#5A3CDC"/>
<rect x="1291.25" y="518.05" width="2" height="25.7" fill="#64C3F5"/>
<rect x="1293.25" y="518.05" width="2.25" height="25.7" fill="#62EED6"/>
<rect x="1295.5" y="518.05" width="1.25" height="25.7" fill="#3C6EEB"/>
<rect x="1200.15" y="545.1" width="114.05" height="28.7" fill="#fff" fill-opacity="0.7"/>
<rect x="1200.75" y="546.6" width="4.75" height="25.7" fill="#26C06A"/>
<rect x="1205.5" y="546.6" width="59" height="25.7" fill="#1C6412"/>
<rect x="1264.5" y="546.6" width="24.75" height="25.7" fill="#A6EEA6"/>
<rect x="1289.25" y="546.6" width="13.75" height="25.7" fill="#FAA41A"/>
<rect x="1303" y="546.6" width="1.5" height="25.7" fill="#BE0A23"/>
<rect x="1304.5" y="546.6" width="2.5" height="25.7" fill="#5A3CDC"/>
<rect x="1307" y="546.6" width="1.75" height="25.7" fill="#837AE2"/>
<rect x="1308.75" y="546.6" width="2.5" height="25.7" fill="#64C3F5"/>
<rect x="1311.25" y="546.6" width="1.75" height="25.7" fill="#3C6EEB"/>
<rect x="1200.15" y="573.65" width="252.3" height="28.7" fill="#fff" fill-opacity="0.7"/>
<rect x="1200.75" y="575.15" width="8.75" height="25.7" fill="#26C06A"/>
<rect x="1209.5" y="575.15" width="132.25" height="25.7" fill="#1C6412"/>
<rect x="1341.75" y="575.15" width="77.5" height="25.7" fill="#A6EEA6"/>
<rect x="1419.25" y="575.15" width="17" height="25.7" fill="#FAA41A"/>
<rect x="1436.25" y="575.15" width="1.25" height="25.7" fill="#BE0A23"/>
<rect x="1437.5" y="575.15" width="2" height="25.7" fill="#5A3CDC"/>
<rect x="1439.5" y="575.15" width="1.75" height="25.7" fill="#837AE2"/>
<rect x="1441.25" y="575.15" width="3.25" height="25.7" fill="#64C3F5"/>
<rect x="1444.5" y="575.15" width="4.25" height="25.7" fill="#62EED6"/>
<rect x="1448.75" y="575.15" width="2.5" height="25.7" fill="#3C6EEB"/>
<rect x="1200.15" y="602.2" width="87.3" height="28.7" fill="#fff" fill-opacity="0.7"/>
<rect x="1200.75" y="603.7" width="2.5" height="25.7" fill="#26C06A"/>
<rect x="1203.25" y="603.7" width="22.5" height="25.7" fill="#1C6412"/>
<rect x="1225.75" y="603.7" width="38.5" height="25.7" fill="#A6EEA6"/>
<rect x="1264.25" y="603.7" width="5" height="25.7" fill="#FAA41A"/>
<rect x="1269.25" y="603.7" width="1.5" height="25.7" fill="#BE0A23"/>
<rect x="1270.75" y="603.7" width="1.75" height="25.7" fill="#5A3CDC"/>
<rect x="1272.5" y="603.7" width="3.25" height="25.7" fill="#64C3F5"/>
<rect x="1275.75" y="603.7" width="8.75" height="25.7" fill="#62EED6"/>
<rect x="1284.5" y="603.7" width="1.75" height="25.7" fill="#3C6EEB"/>
<rect x="1200.15" y="630.75" width="136.55" height="28.7" fill="#fff" fill-opacity="0.7"/>
<rect x="1200.75" y="632.25" width="4.75" height="25.7" fill="#26C06A"/>
<rect x="1205.5" y="632.25" width="44.5" height="25.7" fill="#1C6412"/>
<rect x="1250" y="632.25" width="59.5" height="25.7" fill="#A6EEA6"/>
<rect x="1309.5" y="632.25" width="7.5" height="25.7" fill="#FAA41A"/>
<rect x="1317" y="632.25" width="1.75" height="25.7" fill="#BE0A23"/>
<rect x="1318.75" y="632.25" width="1.25" height="25.7" fill="#5A3CDC"/>
<rect x="1320" y="632.25" width="3.75" height="25.7" fill="#64C3F5"/>
<rect x="1323.75" y="632.25" width="9.5" height="25.7" fill="#62EED6"/>
<rect x="1333.25" y="632.25" width="2.25" height="25.7" fill="#3C6EEB"/>
<rect x="1200.15" y="659.3" width="97.55" height="28.7" fill="#fff" fill-opacity="0.7"/>
<rect x="1200.75" y="660.8" width="6" height="25.7" fill="#26C06A"/>
<rect x="1206.75" y="660.8" width="42.75" height="25.7" fill="#1C6412"/>
<rect x="1249.5" y="660.8" width="26" height="25.7" fill="#A6EEA6"/>
<rect x="1275.5" y="660.8" width="12" height="25.7" fill="#FAA41A"/>
<rect x="1287.5" y="660.8" width="1.75" height="25.7" fill="#BE0A23"/>
<rect x="1289.25" y="660.8" width="1.5" height="25.7" fill="#5A3CDC"/>
<rect x="1290.75" y="660.8" width="2.25" height="25.7" fill="#64C3F5"/>
<rect x="1293" y="660.8" width="2" height="25.7" fill="#62EED6"/>
<rect x="1295" y="660.8" width="1.5" height="25.7" fill="#3C6EEB"/>
<rect x="1200.15" y="687.85" width="113.55" height="28.7" fill="#fff" fill-opacity="0.7"/>
<rect x="1200.75" y="689.35" width="4.75" height="25.7" fill="#26C06A"/>
<rect x="1205.5" y="689.35" width="58.75" height="25.7" fill="#1C6412"/>
<rect x="1264.25" y="689.35" width="24" height="25.7" fill="#A6EEA6"/>
<rect x="1288.25" y="689.35" width="14.25" height="25.7" fill="#FAA41A"/>
<rect x="1302.5" y="689.35" width="1.75" height="25.7" fill="#BE0A23"/>
<rect x="1304.25" y="689.35" width="2" height="25.7" fill="#5A3CDC"/>
<rect x="1306.25" y="689.35" width="3.75" height="25.7" fill="#64C3F5"/>
<rect x="1310" y="689.35" width="2.5" height="25.7" fill="#3C6EEB"/>
<rect x="1200.15" y="716.4" width="141.55" height="28.7" fill="#fff" fill-opacity="0.7"/>
<rect x="1200.75" y="717.9" width="4.75" height="25.7" fill="#26C06A"/>
<rect x="1205.5" y="717.9" width="69.5" height="25.7" fill="#1C6412"/>
<rect x="1275" y="717.9" width="44.25" height="25.7" fill="#A6EEA6"/>
<rect x="1319.25" y="717.9" width="15" height="25.7" fill="#FAA41A"/>
<rect x="1334.25" y="717.9" width="1.5" height="25.7" fill="#BE0A23"/>
<rect x="1335.75" y="717.9" width="1.75" height="25.7" fill="#5A3CDC"/>
<rect x="1337.5" y="717.9" width="3" height="25.7" fill="#3C6EEB"/>
<rect x="1200.15" y="744.95" width="16.55" height="28.7" fill="#fff" fill-opacity="0.7"/>
<rect x="1200.75" y="746.45" width="5" height="25.7" fill="#1C6412"/>
<rect x="1205.75" y="746.45" width="5.25" height="25.7" fill="#A6EEA6"/>
<rect x="1211" y="746.45" width="1" height="25.7" fill="#D2A868"/>
<rect x="1212" y="746.45" width="3.5" height="25.7" fill="#6E8ECC"/>
<rect x="1200.15" y="773.5" width="14.3" height="28.7" fill="#fff" fill-opacity="0.7"/>
<rect x="1200.75" y="775" width="4.25" height="25.7" fill="#1C6412"/>
<rect x="1205" y="775" width="3.25" height="25.7" fill="#A6EEA6"/>
<rect x="1208.25" y="775" width="1" height="25.7" fill="#5E8468"/>
<rect x="1209.25" y="775" width="4" height="25.7" fill="#86C6DA"/>
<rect x="1200.15" y="802.05" width="32.8" height="28.7" fill="#fff" fill-opacity="0.7"/>
<rect x="1200.75" y="803.55" width="13.5" height="25.7" fill="#1C6412"/>
<rect x="1214.25" y="803.55" width="12.65" height="25.7" fill="#A6EEA6"/>
<rect x="1226.9" y="803.55" width="1.35" height="25.7" fill="#D2A868"/>
<rect x="1228.25" y="803.55" width="3.5" height="25.7" fill="#3C6EEB"/>
<rect x="1200.15" y="830.6" width="35.8" height="28.7" fill="#fff" fill-opacity="0.7"/>
<rect x="1200.75" y="832.1" width="6.25" height="25.7" fill="#1C6412"/>
<rect x="1207" y="832.1" width="17.25" height="25.7" fill="#A6EEA6"/>
<rect x="1224.25" y="832.1" width="2.5" height="25.7" fill="#E2584A"/>
<rect x="1226.75" y="832.1" width="1" height="25.7" fill="#5A3CDC"/>
<rect x="1227.75" y="832.1" width="6.15" height="25.7" fill="#62EED6"/>
<rect x="1233.9" y="832.1" width="0.85" height="25.7" fill="#3C6EEB"/>
<rect x="1200.15" y="859.15" width="27.55" height="28.7" fill="#fff" fill-opacity="0.7"/>
<rect x="1200.75" y="860.65" width="5" height="25.7" fill="#1C6412"/>
<rect x="1205.75" y="860.65" width="17.65" height="25.7" fill="#A6EEA6"/>
<rect x="1223.4" y="860.65" width="0.85" height="25.7" fill="#8C7C90"/>
<rect x="1224.25" y="860.65" width="2.25" height="25.7" fill="#6E8ECC"/>
<rect x="1200.15" y="887.7" width="27.95" height="28.7" fill="#fff" fill-opacity="0.7"/>
<rect x="1200.75" y="889.2" width="4.25" height="25.7" fill="#1C6412"/>
<rect x="1205" y="889.2" width="19.6" height="25.7" fill="#A6EEA6"/>
<rect x="1224.6" y="889.2" width="0.9" height="25.7" fill="#8C7C90"/>
<rect x="1225.5" y="889.2" width="1.4" height="25.7" fill="#6E8ECC"/>
</g>
<text x="1339" y="508.3" font-size="40.2" font-weight="bold" fill="#99DC9B" stroke="#99DC9B" stroke-width="0.1" text-anchor="middle" style="font-kerning:none">ZC3H11A</text>
<g class="panel p10" filter="url(#soft)">
<rect x="1470.4" y="513.75" width="274.4" height="405.75" fill="#E8EBEC"/>
<rect x="1470.4" y="529.05" width="274.4" height="3.7" fill="#fff"/>
<rect x="1470.4" y="557.6" width="274.4" height="3.7" fill="#fff"/>
<rect x="1470.4" y="586.15" width="274.4" height="3.7" fill="#fff"/>
<rect x="1470.4" y="614.7" width="274.4" height="3.7" fill="#fff"/>
<rect x="1470.4" y="643.25" width="274.4" height="3.7" fill="#fff"/>
<rect x="1470.4" y="671.8" width="274.4" height="3.7" fill="#fff"/>
<rect x="1470.4" y="700.35" width="274.4" height="3.7" fill="#fff"/>
<rect x="1470.4" y="728.9" width="274.4" height="3.7" fill="#fff"/>
<rect x="1470.4" y="757.45" width="274.4" height="3.7" fill="#fff"/>
<rect x="1470.4" y="786" width="274.4" height="3.7" fill="#fff"/>
<rect x="1470.4" y="814.55" width="274.4" height="3.7" fill="#fff"/>
<rect x="1470.4" y="843.1" width="274.4" height="3.7" fill="#fff"/>
<rect x="1470.4" y="871.65" width="274.4" height="3.7" fill="#fff"/>
<rect x="1470.4" y="900.2" width="274.4" height="3.7" fill="#fff"/>
<rect x="1480.45" y="513.75" width="3.7" height="405.75" fill="#fff"/>
<rect x="1509.4" y="513.75" width="2.2" height="405.75" fill="#fff"/>
<rect x="1536.85" y="513.75" width="3.7" height="405.75" fill="#fff"/>
<rect x="1565.8" y="513.75" width="2.2" height="405.75" fill="#fff"/>
<rect x="1593.25" y="513.75" width="3.7" height="405.75" fill="#fff"/>
<rect x="1622.2" y="513.75" width="2.2" height="405.75" fill="#fff"/>
<rect x="1649.65" y="513.75" width="3.7" height="405.75" fill="#fff"/>
<rect x="1678.6" y="513.75" width="2.2" height="405.75" fill="#fff"/>
<rect x="1706.05" y="513.75" width="3.7" height="405.75" fill="#fff"/>
<rect x="1735" y="513.75" width="2.2" height="405.75" fill="#fff"/>
<rect x="1481.9" y="516.55" width="136.05" height="28.7" fill="#fff" fill-opacity="0.7"/>
<rect x="1482.5" y="518.05" width="7.5" height="25.7" fill="#26C06A"/>
<rect x="1490" y="518.05" width="57.5" height="25.7" fill="#1C6412"/>
<rect x="1547.5" y="518.05" width="14.25" height="25.7" fill="#A6EEA6"/>
<rect x="1561.75" y="518.05" width="6.25" height="25.7" fill="#FAA41A"/>
<rect x="1568" y="518.05" width="1" height="25.7" fill="#BE0A23"/>
<rect x="1569" y="518.05" width="4.75" height="25.7" fill="#5A3CDC"/>
<rect x="1573.75" y="518.05" width="3.75" height="25.7" fill="#C850DC"/>
<rect x="1577.5" y="518.05" width="11.75" height="25.7" fill="#64C3F5"/>
<rect x="1589.25" y="518.05" width="1.25" height="25.7" fill="#2458B4"/>
<rect x="1590.5" y="518.05" width="22.75" height="25.7" fill="#62EED6"/>
<rect x="1613.25" y="518.05" width="3.5" height="25.7" fill="#3C6EEB"/>
<rect x="1481.9" y="545.1" width="162.55" height="28.7" fill="#fff" fill-opacity="0.7"/>
<rect x="1482.5" y="546.6" width="7" height="25.7" fill="#26C06A"/>
<rect x="1489.5" y="546.6" width="74.25" height="25.7" fill="#1C6412"/>
<rect x="1563.75" y="546.6" width="14.5" height="25.7" fill="#A6EEA6"/>
<rect x="1578.25" y="546.6" width="6.75" height="25.7" fill="#FAA41A"/>
<rect x="1585" y="546.6" width="1" height="25.7" fill="#BE0A23"/>
<rect x="1586" y="546.6" width="6" height="25.7" fill="#5A3CDC"/>
<rect x="1592" y="546.6" width="3.75" height="25.7" fill="#C850DC"/>
<rect x="1595.75" y="546.6" width="13" height="25.7" fill="#64C3F5"/>
<rect x="1608.75" y="546.6" width="1.75" height="25.7" fill="#2458B4"/>
<rect x="1610.5" y="546.6" width="28.75" height="25.7" fill="#62EED6"/>
<rect x="1639.25" y="546.6" width="4" height="25.7" fill="#3C6EEB"/>
<rect x="1481.9" y="573.65" width="251.3" height="28.7" fill="#fff" fill-opacity="0.7"/>
<rect x="1482.5" y="575.15" width="10.5" height="25.7" fill="#26C06A"/>
<rect x="1493" y="575.15" width="90.75" height="25.7" fill="#1C6412"/>
<rect x="1583.75" y="575.15" width="27.5" height="25.7" fill="#A6EEA6"/>
<rect x="1611.25" y="575.15" width="8.75" height="25.7" fill="#FAA41A"/>
<rect x="1620" y="575.15" width="1.75" height="25.7" fill="#BE0A23"/>
<rect x="1621.75" y="575.15" width="9.5" height="25.7" fill="#5A3CDC"/>
<rect x="1631.25" y="575.15" width="6.25" height="25.7" fill="#FA28BE"/>
<rect x="1637.5" y="575.15" width="25" height="25.7" fill="#64C3F5"/>
<rect x="1662.5" y="575.15" width="1.75" height="25.7" fill="#2458B4"/>
<rect x="1664.25" y="575.15" width="60" height="25.7" fill="#62EED6"/>
<rect x="1724.25" y="575.15" width="7.75" height="25.7" fill="#3C6EEB"/>
<rect x="1481.9" y="602.2" width="112.3" height="28.7" fill="#fff" fill-opacity="0.7"/>
<rect x="1482.5" y="603.7" width="3.75" height="25.7" fill="#26C06A"/>
<rect x="1486.25" y="603.7" width="38.25" height="25.7" fill="#1C6412"/>
<rect x="1524.5" y="603.7" width="18.5" height="25.7" fill="#A6EEA6"/>
<rect x="1543" y="603.7" width="4.5" height="25.7" fill="#FAA41A"/>
<rect x="1547.5" y="603.7" width="1" height="25.7" fill="#BE0A23"/>
<rect x="1548.5" y="603.7" width="4" height="25.7" fill="#5A3CDC"/>
<rect x="1552.5" y="603.7" width="4.25" height="25.7" fill="#C850DC"/>
<rect x="1556.75" y="603.7" width="11.5" height="25.7" fill="#64C3F5"/>
<rect x="1568.25" y="603.7" width="1.25" height="25.7" fill="#2458B4"/>
<rect x="1569.5" y="603.7" width="19.75" height="25.7" fill="#62EED6"/>
<rect x="1589.25" y="603.7" width="3.75" height="25.7" fill="#3C6EEB"/>
<rect x="1481.9" y="630.75" width="227.3" height="28.7" fill="#fff" fill-opacity="0.7"/>
<rect x="1482.5" y="632.25" width="5.5" height="25.7" fill="#26C06A"/>
<rect x="1488" y="632.25" width="79.5" height="25.7" fill="#1C6412"/>
<rect x="1567.5" y="632.25" width="23" height="25.7" fill="#A6EEA6"/>
<rect x="1590.5" y="632.25" width="6.25" height="25.7" fill="#FAA41A"/>
<rect x="1596.75" y="632.25" width="1.5" height="25.7" fill="#BE0A23"/>
<rect x="1598.25" y="632.25" width="8.75" height="25.7" fill="#5A3CDC"/>
<rect x="1607" y="632.25" width="6.75" height="25.7" fill="#FA28BE"/>
<rect x="1613.75" y="632.25" width="26.25" height="25.7" fill="#64C3F5"/>
<rect x="1640" y="632.25" width="1.75" height="25.7" fill="#2458B4"/>
<rect x="1641.75" y="632.25" width="59.5" height="25.7" fill="#62EED6"/>
<rect x="1701.25" y="632.25" width="6.75" height="25.7" fill="#3C6EEB"/>
<rect x="1481.9" y="659.3" width="56.3" height="28.7" fill="#fff" fill-opacity="0.7"/>
<rect x="1482.5" y="660.8" width="3.25" height="25.7" fill="#26C06A"/>
<rect x="1485.75" y="660.8" width="21.75" height="25.7" fill="#1C6412"/>
<rect x="1507.5" y="660.8" width="5.5" height="25.7" fill="#A6EEA6"/>
<rect x="1513" y="660.8" width="4.5" height="25.7" fill="#FAA41A"/>
<rect x="1517.5" y="660.8" width="1" height="25.7" fill="#BE0A23"/>
<rect x="1518.5" y="660.8" width="2.75" height="25.7" fill="#5A3CDC"/>
<rect x="1521.25" y="660.8" width="1.75" height="25.7" fill="#C850DC"/>
<rect x="1523" y="660.8" width="4.5" height="25.7" fill="#64C3F5"/>
<rect x="1527.5" y="660.8" width="8.25" height="25.7" fill="#62EED6"/>
<rect x="1535.75" y="660.8" width="1.25" height="25.7" fill="#3C6EEB"/>
<rect x="1481.9" y="687.85" width="66.8" height="28.7" fill="#fff" fill-opacity="0.7"/>
<rect x="1482.5" y="689.35" width="3.25" height="25.7" fill="#26C06A"/>
<rect x="1485.75" y="689.35" width="29.25" height="25.7" fill="#1C6412"/>
<rect x="1515" y="689.35" width="5.75" height="25.7" fill="#A6EEA6"/>
<rect x="1520.75" y="689.35" width="5.5" height="25.7" fill="#FAA41A"/>
<rect x="1526.25" y="689.35" width="1" height="25.7" fill="#BE0A23"/>
<rect x="1527.25" y="689.35" width="2.75" height="25.7" fill="#5A3CDC"/>
<rect x="1530" y="689.35" width="1.75" height="25.7" fill="#C850DC"/>
<rect x="1531.75" y="689.35" width="5" height="25.7" fill="#64C3F5"/>
<rect x="1536.75" y="689.35" width="9.5" height="25.7" fill="#62EED6"/>
<rect x="1546.25" y="689.35" width="1.25" height="25.7" fill="#3C6EEB"/>
<rect x="1481.9" y="716.4" width="83.55" height="28.7" fill="#fff" fill-opacity="0.7"/>
<rect x="1482.5" y="717.9" width="2.5" height="25.7" fill="#26C06A"/>
<rect x="1485" y="717.9" width="28.25" height="25.7" fill="#1C6412"/>
<rect x="1513.25" y="717.9" width="9.75" height="25.7" fill="#A6EEA6"/>
<rect x="1523" y="717.9" width="5.75" height="25.7" fill="#FAA41A"/>
<rect x="1528.75" y="717.9" width="1" height="25.7" fill="#BE0A23"/>
<rect x="1529.75" y="717.9" width="4.5" height="25.7" fill="#5A3CDC"/>
<rect x="1534.25" y="717.9" width="2" height="25.7" fill="#C850DC"/>
<rect x="1536.25" y="717.9" width="8.75" height="25.7" fill="#64C3F5"/>
<rect x="1545" y="717.9" width="1.25" height="25.7" fill="#2458B4"/>
<rect x="1546.25" y="717.9" width="15.75" height="25.7" fill="#62EED6"/>
<rect x="1562" y="717.9" width="2.25" height="25.7" fill="#3C6EEB"/>
<rect x="1481.9" y="744.95" width="15.05" height="28.7" fill="#fff" fill-opacity="0.7"/>
<rect x="1482.5" y="746.45" width="0.5" height="25.7" fill="#26C06A"/>
<rect x="1483" y="746.45" width="0.75" height="25.7" fill="#1C6412"/>
<rect x="1483.75" y="746.45" width="1" height="25.7" fill="#BE0A23"/>
<rect x="1484.75" y="746.45" width="1.5" height="25.7" fill="#5A3CDC"/>
<rect x="1486.25" y="746.45" width="2.5" height="25.7" fill="#64C3F5"/>
<rect x="1488.75" y="746.45" width="7" height="25.7" fill="#62EED6"/>
<rect x="1481.9" y="773.5" width="13.05" height="28.7" fill="#fff" fill-opacity="0.7"/>
<rect x="1482.5" y="775" width="0.5" height="25.7" fill="#26C06A"/>
<rect x="1483" y="775" width="0.75" height="25.7" fill="#1C6412"/>
<rect x="1483.75" y="775" width="1.75" height="25.7" fill="#5A3CDC"/>
<rect x="1485.5" y="775" width="2.5" height="25.7" fill="#64C3F5"/>
<rect x="1488" y="775" width="5.75" height="25.7" fill="#62EED6"/>
<rect x="1481.9" y="802.05" width="23.55" height="28.7" fill="#fff" fill-opacity="0.7"/>
<rect x="1482.5" y="803.55" width="0.5" height="25.7" fill="#26C06A"/>
<rect x="1483" y="803.55" width="1.25" height="25.7" fill="#1C6412"/>
<rect x="1484.25" y="803.55" width="1" height="25.7" fill="#BE0A23"/>
<rect x="1485.25" y="803.55" width="1.5" height="25.7" fill="#5A3CDC"/>
<rect x="1486.75" y="803.55" width="5.25" height="25.7" fill="#64C3F5"/>
<rect x="1492" y="803.55" width="10.5" height="25.7" fill="#62EED6"/>
<rect x="1502.5" y="803.55" width="1.75" height="25.7" fill="#3C6EEB"/>
<rect x="1481.9" y="830.6" width="10.55" height="28.7" fill="#fff" fill-opacity="0.7"/>
<rect x="1482.5" y="832.1" width="0.5" height="25.7" fill="#26C06A"/>
<rect x="1483" y="832.1" width="1.25" height="25.7" fill="#1C6412"/>
<rect x="1484.25" y="832.1" width="2" height="25.7" fill="#5A3CDC"/>
<rect x="1486.25" y="832.1" width="5" height="25.7" fill="#64C3F5"/>
<rect x="1481.9" y="859.15" width="22.55" height="28.7" fill="#fff" fill-opacity="0.7"/>
<rect x="1482.5" y="860.65" width="0.75" height="25.7" fill="#26C06A"/>
<rect x="1483.25" y="860.65" width="2.25" height="25.7" fill="#1C6412"/>
<rect x="1485.5" y="860.65" width="1.25" height="25.7" fill="#FAA41A"/>
<rect x="1486.75" y="860.65" width="3.25" height="25.7" fill="#5A3CDC"/>
<rect x="1490" y="860.65" width="5" height="25.7" fill="#64C3F5"/>
<rect x="1495" y="860.65" width="1" height="25.7" fill="#2458B4"/>
<rect x="1496" y="860.65" width="7.25" height="25.7" fill="#62EED6"/>
<rect x="1481.9" y="887.7" width="16.3" height="28.7" fill="#fff" fill-opacity="0.7"/>
<rect x="1482.5" y="889.2" width="0.75" height="25.7" fill="#26C06A"/>
<rect x="1483.25" y="889.2" width="1.75" height="25.7" fill="#1C6412"/>
<rect x="1485" y="889.2" width="1" height="25.7" fill="#BE0A23"/>
<rect x="1486" y="889.2" width="2" height="25.7" fill="#5A3CDC"/>
<rect x="1488" y="889.2" width="3.75" height="25.7" fill="#64C3F5"/>
<rect x="1491.75" y="889.2" width="0.75" height="25.7" fill="#2458B4"/>
<rect x="1492.5" y="889.2" width="4.5" height="25.7" fill="#62EED6"/>
</g>
<text x="1617.5" y="508.3" font-size="40.2" font-weight="bold" fill="#68EDD6" stroke="#68EDD6" stroke-width="0.1" text-anchor="middle" style="font-kerning:none">RBFOX2</text>
<text transform="translate(368 468.6) scale(0.94 1)" font-size="30.5" fill="#12161C" stroke="#12161C" stroke-width="0.5" text-anchor="middle">0</text>
<text transform="translate(538.5 468.6) scale(0.94 1)" font-size="30.5" fill="#12161C" stroke="#12161C" stroke-width="0.5" text-anchor="middle">10,000</text>
<text transform="translate(650 468.6) scale(0.94 1)" font-size="30.5" fill="#12161C" stroke="#12161C" stroke-width="0.5" text-anchor="middle">0</text>
<text transform="translate(788.75 468.6) scale(0.94 1)" font-size="30.5" fill="#12161C" stroke="#12161C" stroke-width="0.5" text-anchor="middle">2,000</text>
<text transform="translate(926 468.6) scale(0.94 1)" font-size="30.5" fill="#12161C" stroke="#12161C" stroke-width="0.5" text-anchor="middle">0</text>
<text transform="translate(1112 468.6) scale(0.94 1)" font-size="30.5" fill="#12161C" stroke="#12161C" stroke-width="0.5" text-anchor="middle">15,000</text>
<text transform="translate(1203 468.6) scale(0.94 1)" font-size="30.5" fill="#12161C" stroke="#12161C" stroke-width="0.5" text-anchor="middle">0</text>
<text transform="translate(1371 468.6) scale(0.94 1)" font-size="30.5" fill="#12161C" stroke="#12161C" stroke-width="0.5" text-anchor="middle">40,000</text>
<text transform="translate(1480.5 468.6) scale(0.94 1)" font-size="30.5" fill="#12161C" stroke="#12161C" stroke-width="0.5" text-anchor="middle">0</text>
<text transform="translate(1627.5 468.6) scale(0.94 1)" font-size="30.5" fill="#12161C" stroke="#12161C" stroke-width="0.5" text-anchor="middle">20,000</text>
<text transform="translate(371.25 947.5) rotate(-30) scale(0.94 1)" x="0" y="10.92" font-size="30.5" fill="#12161C" stroke="#12161C" stroke-width="0.5" text-anchor="middle">0</text>
<text transform="translate(540 966) rotate(-30) scale(0.94 1)" x="0" y="10.92" font-size="30.5" fill="#12161C" stroke="#12161C" stroke-width="0.5" text-anchor="middle">60,000</text>
<text transform="translate(651.25 947.5) rotate(-30) scale(0.94 1)" x="0" y="10.92" font-size="30.5" fill="#12161C" stroke="#12161C" stroke-width="0.5" text-anchor="middle">0</text>
<text transform="translate(811.25 966) rotate(-30) scale(0.94 1)" x="0" y="10.92" font-size="30.5" fill="#12161C" stroke="#12161C" stroke-width="0.5" text-anchor="middle">30,000</text>
<text transform="translate(931.25 947.5) rotate(-30) scale(0.94 1)" x="0" y="10.92" font-size="30.5" fill="#12161C" stroke="#12161C" stroke-width="0.5" text-anchor="middle">0</text>
<text transform="translate(1091.5 961.25) rotate(-30) scale(0.94 1)" x="0" y="10.92" font-size="30.5" fill="#12161C" stroke="#12161C" stroke-width="0.5" text-anchor="middle">4,000</text>
<text transform="translate(1203 947.5) rotate(-30) scale(0.94 1)" x="0" y="10.92" font-size="30.5" fill="#12161C" stroke="#12161C" stroke-width="0.5" text-anchor="middle">0</text>
<text transform="translate(1361.25 962.5) rotate(-30) scale(0.94 1)" x="0" y="10.92" font-size="30.5" fill="#12161C" stroke="#12161C" stroke-width="0.5" text-anchor="middle">7,500</text>
<text transform="translate(1481.25 947.5) rotate(-30) scale(0.94 1)" x="0" y="10.92" font-size="30.5" fill="#12161C" stroke="#12161C" stroke-width="0.5" text-anchor="middle">0</text>
<text transform="translate(1621.25 966) rotate(-30) scale(0.94 1)" x="0" y="10.92" font-size="30.5" fill="#12161C" stroke="#12161C" stroke-width="0.5" text-anchor="middle">30,000</text>
<text x="329.8" y="92.4" font-size="41.5" fill="#12161C" stroke="#12161C" stroke-width="0.5" text-anchor="end">ABC (IP)</text>
<text x="329.8" y="565.9" font-size="41.5" fill="#12161C" stroke="#12161C" stroke-width="0.5" text-anchor="end">ABC (IP)</text>
<text x="329.8" y="166.7" font-size="41.5" fill="#12161C" stroke="#12161C" stroke-width="0.5" text-anchor="end">ENCODE (IP)</text>
<text x="329.8" y="640.2" font-size="41.5" fill="#12161C" stroke="#12161C" stroke-width="0.5" text-anchor="end">ENCODE (IP)</text>
<text x="329.8" y="238.1" font-size="41.5" fill="#12161C" stroke="#12161C" stroke-width="0.5" text-anchor="end">ABC (RNA-seq)</text>
<text x="329.8" y="711.6" font-size="41.5" fill="#12161C" stroke="#12161C" stroke-width="0.5" text-anchor="end">ABC (RNA-seq)</text>
<text x="329.8" y="320.2" font-size="41.5" fill="#12161C" stroke="#12161C" stroke-width="0.5" text-anchor="end">ABC (CC)</text>
<text x="329.8" y="793.7" font-size="41.5" fill="#12161C" stroke="#12161C" stroke-width="0.5" text-anchor="end">ABC (CC)</text>
<text x="329.8" y="392" font-size="41.5" fill="#12161C" stroke="#12161C" stroke-width="0.5" text-anchor="end">eCLIP (SMI)</text>
<text x="329.8" y="865.5" font-size="41.5" fill="#12161C" stroke="#12161C" stroke-width="0.5" text-anchor="end">eCLIP (SMI)</text>
<text x="329.8" y="437.2" font-size="41.5" fill="#12161C" stroke="#12161C" stroke-width="0.5" text-anchor="end">eCLIP IDR Peaks</text>
<text x="329.8" y="910.7" font-size="41.5" fill="#12161C" stroke="#12161C" stroke-width="0.5" text-anchor="end">eCLIP IDR Peaks</text>
<rect x="336" y="43.1" width="2.6" height="76.5" fill="#12161C"/>
<rect x="336" y="129.8" width="2.6" height="47" fill="#12161C"/>
<rect x="336" y="187" width="2.6" height="77.5" fill="#12161C"/>
<rect x="336" y="273.7" width="2.6" height="77.3" fill="#12161C"/>
<rect x="336" y="357.3" width="2.6" height="49" fill="#12161C"/>
<rect x="336" y="415.8" width="2.6" height="23.2" fill="#12161C"/>
<rect x="336" y="517" width="2.6" height="75.8" fill="#12161C"/>
<rect x="336" y="604.3" width="2.6" height="46.6" fill="#12161C"/>
<rect x="336" y="660.9" width="2.6" height="77.3" fill="#12161C"/>
<rect x="336" y="747.3" width="2.6" height="76.1" fill="#12161C"/>
<rect x="336" y="832.2" width="2.6" height="48.8" fill="#12161C"/>
<rect x="336" y="890.5" width="2.6" height="21.8" fill="#12161C"/>
<rect x="1748.3" y="127.4" width="33.7" height="33.5" fill="#26C06A"/>
<text x="1797.3" y="153.8" font-size="34" fill="#12161C" stroke="#12161C" stroke-width="0.5">5’ UTR</text>
<rect x="1748.3" y="163.95" width="33.7" height="33.5" fill="#1C6412"/>
<text x="1797.3" y="188.4" font-size="34" fill="#12161C" stroke="#12161C" stroke-width="0.5">CDS</text>
<rect x="1748.3" y="200.5" width="33.7" height="33.5" fill="#A6EEA6"/>
<text x="1797.3" y="226.9" font-size="34" fill="#12161C" stroke="#12161C" stroke-width="0.5">3’ UTR</text>
<rect x="1748.3" y="237.05" width="33.7" height="33.5" fill="#FAA41A"/>
<text x="1797.3" y="263.4" font-size="34" fill="#12161C" stroke="#12161C" stroke-width="0.5">Noncoding Exon</text>
<rect x="1748.3" y="273.6" width="33.7" height="33.5" fill="#F5241D"/>
<text x="1797.3" y="299" font-size="34" fill="#12161C" stroke="#12161C" stroke-width="0.5">miRNA</text>
<rect x="1748.3" y="310.15" width="33.7" height="33.5" fill="#BE0A23"/>
<text x="1797.3" y="335.5" font-size="34" fill="#12161C" stroke="#12161C" stroke-width="0.5">miRNA Proximal</text>
<rect x="1748.3" y="346.7" width="33.7" height="33.5" fill="#5A3CDC"/>
<text x="1797.3" y="375.4" font-size="34" fill="#12161C" stroke="#12161C" stroke-width="0.5">5’ Splice Site</text>
<rect x="1748.3" y="383.25" width="33.7" height="33.5" fill="#837AE2"/>
<text x="1797.3" y="409.2" font-size="34" fill="#12161C" stroke="#12161C" stroke-width="0.5">5’ Splice Site (ncRNA)</text>
<rect x="1748.3" y="419.8" width="33.7" height="33.5" fill="#FA28BE"/>
<text x="1797.3" y="447.7" font-size="34" fill="#12161C" stroke="#12161C" stroke-width="0.5">3’ Splice Site</text>
<rect x="1748.3" y="456.35" width="33.7" height="33.5" fill="#F85AD7"/>
<text x="1797.3" y="483.6" font-size="34" fill="#12161C" stroke="#12161C" stroke-width="0.5">3’ Splice Site (ncRNA)</text>
<rect x="1748.3" y="492.9" width="33.7" height="33.5" fill="#64C3F5"/>
<text x="1797.3" y="520.9" font-size="34" fill="#12161C" stroke="#12161C" stroke-width="0.5">Proximal Intron</text>
<rect x="1748.3" y="529.45" width="33.7" height="33.5" fill="#1A28BE"/>
<text x="1797.3" y="561.5" font-size="34" fill="#12161C" stroke="#12161C" stroke-width="0.5">Proximal Intron (ncRNA)</text>
<rect x="1748.3" y="566" width="33.7" height="33.5" fill="#62EED6"/>
<text x="1797.3" y="596.1" font-size="34" fill="#12161C" stroke="#12161C" stroke-width="0.5">Distal Intron</text>
<rect x="1748.3" y="602.55" width="33.7" height="33.5" fill="#3C6EEB"/>
<text x="1797.3" y="633" font-size="34" fill="#12161C" stroke="#12161C" stroke-width="0.5">Distal Intron (ncRNA)</text>
<rect x="1748.3" y="639.1" width="33.7" height="33.5" fill="#080808"/>
<text x="1797.3" y="671.9" font-size="34" fill="#12161C" stroke="#12161C" stroke-width="0.5">tRNA</text>
<rect x="1748.3" y="675.65" width="33.7" height="33.5" fill="#AEB9B5"/>
<text x="1797.3" y="708.75" font-size="34" fill="#12161C" stroke="#12161C" stroke-width="0.5">Intergenic</text>
<text x="1048" y="1037.5" font-size="44.3" fill="#12161C" stroke="#12161C" stroke-width="0.5" text-anchor="middle">Total Peaks</text>
</svg>
</body></html>
